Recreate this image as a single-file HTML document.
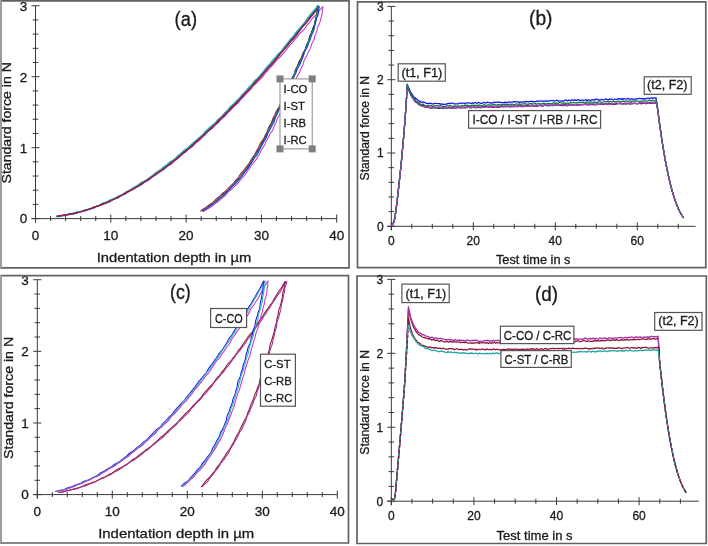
<!DOCTYPE html><html><head><meta charset="utf-8"><style>html,body{margin:0;padding:0;background:#fff;}svg{display:block;will-change:transform;}text{font-family:"Liberation Sans", sans-serif;fill:#1a1a1a;stroke:#1a1a1a;stroke-width:0.3px;}</style></head><body>
<svg width="708" height="546" viewBox="0 0 708 546">
<rect width="708" height="546" fill="#fff"/>
<path d="M35.5 5.75V222.6M31.5 218.6H336.7M31.5 218.6H39.5M32.7 204.41H38.3M32.7 190.22H38.3M32.7 176.03H38.3M32.7 161.84H38.3M31.5 147.65H39.5M32.7 133.46H38.3M32.7 119.27H38.3M32.7 105.08H38.3M32.7 90.89H38.3M31.5 76.7H39.5M32.7 62.51H38.3M32.7 48.32H38.3M32.7 34.13H38.3M32.7 19.94H38.3M31.5 5.75H39.5M35.5 214.6V222.6M50.56 216.1V221.1M65.62 216.1V221.1M80.68 216.1V221.1M95.74 216.1V221.1M110.8 214.6V222.6M125.86 216.1V221.1M140.92 216.1V221.1M155.98 216.1V221.1M171.04 216.1V221.1M186.1 214.6V222.6M201.16 216.1V221.1M216.22 216.1V221.1M231.28 216.1V221.1M246.34 216.1V221.1M261.4 214.6V222.6M276.46 216.1V221.1M291.52 216.1V221.1M306.58 216.1V221.1M321.64 216.1V221.1M336.7 214.6V222.6" stroke="#3a3a3a" stroke-width="1" fill="none"/>
<text x="35.5" y="240.4" font-size="13.5" text-anchor="middle">0</text>
<text x="110.8" y="240.4" font-size="13.5" text-anchor="middle">10</text>
<text x="186.1" y="240.4" font-size="13.5" text-anchor="middle">20</text>
<text x="261.4" y="240.4" font-size="13.5" text-anchor="middle">30</text>
<text x="336.7" y="240.4" font-size="13.5" text-anchor="middle">40</text>
<text x="27.3" y="223.46" font-size="13.5" text-anchor="end">0</text>
<text x="27.3" y="152.51" font-size="13.5" text-anchor="end">1</text>
<text x="27.3" y="81.56" font-size="13.5" text-anchor="end">2</text>
<text x="27.3" y="10.61" font-size="13.5" text-anchor="end">3</text>
<text x="96.7" y="262" font-size="13.5" text-anchor="start" textLength="154.5" lengthAdjust="spacingAndGlyphs">Indentation depth in µm</text>
<text transform="translate(11.2 122.8) rotate(-90)" font-size="13.5" text-anchor="middle" textLength="121.3" lengthAdjust="spacingAndGlyphs">Standard force in N</text>
<text x="174.6" y="25.5" font-size="19.5" text-anchor="start" textLength="22.5" lengthAdjust="spacingAndGlyphs">(a)</text>
<path d="M56.62 216.45 58.47 216.07 60.32 215.65 62.19 215.39 64.08 215.18 65.95 214.83 67.8 214.38 69.69 214.11 71.63 214.06 73.57 213.92 75.43 213.43 77.25 212.72 79.08 212.08 80.95 211.57 82.81 210.98 84.62 210.24 86.47 209.59 88.41 209.2 90.36 208.83 92.23 208.18 94.03 207.3 95.86 206.51 97.79 205.94 99.71 205.34 101.57 204.56 103.45 203.81 105.42 203.23 107.37 202.6 109.18 201.61 110.89 200.4 112.68 199.33 114.58 198.5 116.47 197.63 118.31 196.62 120.21 195.73 122.22 195.01 124.17 194.15 125.94 192.95 127.71 191.72 129.64 190.76 131.63 189.89 133.51 188.8 135.35 187.62 137.27 186.57 139.17 185.46 140.89 184.03 142.55 182.51 144.42 181.31 146.45 180.32 148.39 179.18 150.27 177.91 152.24 176.78 154.21 175.62 155.98 174.15 157.69 172.58 159.62 171.32 161.66 170.17 163.51 168.75 165.27 167.19 167.15 165.77 168.99 164.29 170.67 162.59 172.48 161.03 174.58 159.85 176.67 158.61 178.52 157.06 180.38 155.49 182.31 154.01 184.07 152.31 185.76 150.5 187.71 148.99 189.77 147.59 191.56 145.86 193.26 144.02 195.15 142.38 197.02 140.71 198.8 138.91 200.84 137.38 203.03 136.02 204.91 134.28 206.58 132.32 208.42 130.52 210.26 128.7 211.95 126.72 213.89 124.99 215.99 123.4 217.77 121.47 219.44 119.42 221.4 117.65 223.38 115.89 225.24 113.99 227.32 112.3 229.37 110.56 230.99 108.39 232.6 106.2 234.52 104.3 236.37 102.32 238.21 100.31 240.31 98.55 242.24 96.6 243.86 94.36 245.78 92.39 247.89 90.57 249.75 88.52 251.67 86.51 253.62 84.52 255.18 82.16 256.79 79.83 258.84 77.9 260.83 75.9 262.7 73.78 264.78 71.83 266.61 69.66 268.25 67.31 270.29 65.3 272.36 63.3 274.08 61 275.92 58.78 277.71 56.51 279.27 54.04 281.24 51.91 283.48 50 285.35 47.77 287.24 45.54 289.18 43.35 290.81 40.89 292.69 38.63 294.83 36.58 296.55 34.17 298.22 31.72 300.12 29.45 301.86 27.03 303.85 24.81 306.16 22.85 307.99 20.49 309.68 18.01 311.59 15.69 313.27 13.2 315.14 10.83 317.27 8.68 318.95 6.16" stroke="#222" stroke-width="1.15" fill="none" stroke-linejoin="round" opacity="1"/>
<path d="M56.81 216.42 58.69 216.28 60.55 215.87 62.4 215.45 64.29 215.3 66.22 215.3 68.11 215.04 69.94 214.44 71.76 213.79 73.63 213.37 75.51 213.01 77.36 212.45 79.18 211.78 81.06 211.33 83.03 211.15 84.98 210.86 86.83 210.21 88.64 209.41 90.51 208.8 92.44 208.33 94.31 207.68 96.12 206.82 97.98 206.07 99.94 205.57 101.87 204.97 103.66 204 105.39 202.89 107.24 202.04 109.19 201.39 111.09 200.59 112.92 199.64 114.84 198.86 116.87 198.27 118.82 197.48 120.57 196.29 122.33 195.09 124.24 194.18 126.19 193.31 128.01 192.19 129.81 191 131.75 190.05 133.71 189.12 135.49 187.84 137.19 186.43 139.09 185.33 141.15 184.47 143.09 183.39 144.92 182.13 146.88 181.03 148.88 179.98 150.66 178.59 152.31 176.98 154.16 175.66 156.19 174.57 158.07 173.25 159.83 171.75 161.76 170.46 163.75 169.23 165.52 167.7 167.26 166.11 169.3 164.88 171.42 163.74 173.28 162.22 175.06 160.6 177 159.17 178.85 157.6 180.47 155.75 182.3 154.12 184.41 152.83 186.36 151.33 188.1 149.55 190.03 147.99 192.05 146.5 193.82 144.72 195.66 143 197.81 141.63 199.81 140.06 201.46 138.09 203.25 136.25 205.19 134.57 206.92 132.65 208.73 130.79 210.9 129.32 212.95 127.68 214.65 125.68 216.55 123.86 218.6 122.19 220.39 120.23 222.25 118.34 224.39 116.71 226.22 114.76 227.79 112.52 229.69 110.62 231.7 108.8 233.51 106.78 235.57 104.98 237.77 103.3 239.51 101.17 241.23 99.01 243.31 97.18 245.21 95.17 246.98 93.02 249.05 91.14 250.92 89.05 252.48 86.68 254.49 84.7 256.66 82.86 258.53 80.74 260.58 78.77 262.66 76.81 264.27 74.41 266.06 72.17 268.22 70.24 270.04 68.01 271.86 65.77 273.94 63.74 275.68 61.39 277.49 59.11 279.8 57.25 281.82 55.13 283.63 52.81 285.68 50.69 287.4 48.28 289.07 45.82 291.27 43.8 293.26 41.58 295 39.15 297.09 37.01 298.99 34.7 300.83 32.32 303.15 30.34 305.14 28.09 306.79 25.52 308.77 23.24 310.57 20.78 312.36 18.32 314.66 16.28 316.63 13.94 318.37 11.42 320.53 9.22 322.45 6.83" stroke="#c23ac8" stroke-width="1.15" fill="none" stroke-linejoin="round" opacity="1"/>
<path d="M56.6 216.33 58.47 216.06 60.36 215.96 62.28 215.97 64.17 215.76 66 215.17 67.8 214.43 69.64 213.9 71.52 213.56 73.39 213.15 75.24 212.61 77.11 212.17 79.05 211.96 81 211.71 82.86 211.13 84.66 210.33 86.51 209.67 88.44 209.26 90.37 208.81 92.23 208.12 94.08 207.38 95.99 206.78 97.89 206.15 99.68 205.19 101.39 204.02 103.18 203.06 105.12 202.43 107.08 201.82 108.97 201.01 110.86 200.19 112.84 199.53 114.79 198.79 116.59 197.71 118.32 196.49 120.2 195.53 122.2 194.78 124.1 193.82 125.88 192.62 127.7 191.48 129.6 190.46 131.39 189.24 133.08 187.83 134.92 186.66 137 185.84 139.06 184.98 140.94 183.81 142.79 182.58 144.74 181.46 146.59 180.18 148.26 178.63 150.04 177.22 152.05 176.12 154.02 174.94 155.75 173.42 157.5 171.9 159.41 170.58 161.27 169.18 163.04 167.65 165.02 166.37 167.2 165.34 169.19 164.05 170.91 162.39 172.69 160.81 174.56 159.32 176.28 157.63 178 155.93 180 154.56 182.04 153.21 183.78 151.49 185.5 149.72 187.46 148.24 189.43 146.74 191.28 145.08 193.31 143.62 195.43 142.24 197.18 140.43 198.73 138.38 200.52 136.6 202.41 134.9 204.17 133.04 206.11 131.37 208.23 129.88 210.06 128.06 211.72 126.05 213.7 124.36 215.77 122.76 217.61 120.9 219.53 119.1 221.51 117.35 223.1 115.2 224.62 112.97 226.57 111.16 228.6 109.4 230.45 107.47 232.49 105.7 234.52 103.91 236.18 101.75 237.96 99.7 240.1 97.97 242 96 243.7 93.84 245.58 91.84 247.28 89.64 248.83 87.31 250.87 85.42 253.08 83.67 254.95 81.6 256.88 79.57 258.85 77.56 260.46 75.23 262.26 73.05 264.4 71.16 266.17 68.95 267.79 66.58 269.68 64.44 271.43 62.18 273.25 59.96 275.55 58.15 277.64 56.14 279.31 53.77 281.17 51.55 282.95 49.26 284.57 46.82 286.62 44.73 288.61 42.59 290.16 40.07 292 37.79 294.03 35.64 295.88 33.35 298.07 31.32 300.18 29.22 301.69 26.63 303.36 24.16 305.26 21.87 306.96 19.41 308.97 17.19 311.02 15 312.61 12.43 314.49 10.09 316.66 7.97 318.54 5.61" stroke="#157a3c" stroke-width="1.15" fill="none" stroke-linejoin="round" opacity="1"/>
<path d="M56.6 216.29 58.45 215.9 60.33 215.71 62.22 215.55 64.09 215.24 65.95 214.86 67.85 214.62 69.77 214.48 71.66 214.14 73.47 213.44 75.25 212.63 77.09 212.03 78.98 211.63 80.87 211.19 82.73 210.63 84.63 210.17 86.59 209.87 88.53 209.46 90.37 208.7 92.14 207.76 93.98 207 95.91 206.45 97.82 205.84 99.67 205.04 101.53 204.24 103.44 203.56 105.33 202.77 107.08 201.67 108.8 200.49 110.66 199.6 112.65 198.97 114.62 198.25 116.51 197.35 118.42 196.48 120.39 195.67 122.24 194.63 123.95 193.31 125.71 192.07 127.65 191.14 129.63 190.25 131.48 189.11 133.28 187.86 135.16 186.74 137.03 185.58 138.76 184.19 140.53 182.84 142.55 181.85 144.66 180.97 146.59 179.8 148.39 178.43 150.26 177.13 152.11 175.79 153.8 174.2 155.53 172.66 157.52 171.47 159.56 170.31 161.37 168.83 163.12 167.25 165.01 165.84 166.89 164.4 168.68 162.85 170.62 161.49 172.76 160.37 174.75 159.02 176.43 157.29 178.15 155.59 180 154.02 181.75 152.33 183.52 150.65 185.57 149.28 187.64 147.92 189.41 146.19 191.12 144.38 193.06 142.81 195 141.24 196.84 139.53 198.85 138 200.9 136.49 202.6 134.58 204.14 132.5 205.97 130.72 207.9 129.02 209.74 127.22 211.76 125.59 213.87 124.03 215.62 122.09 217.27 120.04 219.25 118.31 221.25 116.59 223.07 114.67 225 112.85 226.9 110.98 228.44 108.76 230.09 106.62 232.16 104.89 234.2 103.1 236.1 101.17 238.14 99.37 240.01 97.39 241.58 95.11 243.45 93.11 245.55 91.31 247.36 89.23 249.13 87.1 251.01 85.06 252.64 82.79 254.38 80.6 256.59 78.83 258.7 76.95 260.49 74.78 262.4 72.69 264.16 70.48 265.74 68.09 267.73 66.06 269.83 64.1 271.51 61.78 273.27 59.51 275.17 57.35 276.91 55.05 278.95 53 281.23 51.13 283.01 48.84 284.64 46.41 286.48 44.15 288.16 41.75 290 39.48 292.19 37.48 293.98 35.14 295.61 32.67 297.6 30.48 299.51 28.23 301.46 25.99 303.65 23.94 305.37 21.51 306.83 18.86 308.7 16.53 310.56 14.19 312.45 11.86 314.62 9.75 316.41 7.32 318.02 4.76" stroke="#2cb4b4" stroke-width="1.15" fill="none" stroke-linejoin="round" opacity="1"/>
<path d="M56.75 216.79 58.63 216.58 60.46 215.99 62.3 215.44 64.17 215.16 66.05 214.93 67.9 214.44 69.72 213.85 71.61 213.54 73.56 213.52 75.5 213.35 77.34 212.76 79.15 212.03 81.03 211.56 82.97 211.28 84.86 210.8 86.68 210.04 88.53 209.38 90.48 209 92.41 208.53 94.2 207.64 95.92 206.53 97.74 205.71 99.69 205.19 101.61 204.57 103.44 203.7 105.32 202.94 107.33 202.47 109.32 201.9 111.12 200.89 112.85 199.7 114.73 198.83 116.72 198.16 118.6 197.25 120.36 196.07 122.21 195.06 124.18 194.26 126.03 193.22 127.71 191.82 129.47 190.6 131.5 189.8 133.55 189.02 135.41 187.9 137.26 186.74 139.27 185.82 141.22 184.78 142.91 183.31 144.59 181.81 146.55 180.73 148.57 179.72 150.35 178.33 152.08 176.86 154.02 175.67 155.97 174.48 157.69 172.93 159.46 171.46 161.58 170.44 163.7 169.41 165.51 167.92 167.27 166.36 169.23 165.03 171.06 163.53 172.66 161.7 174.46 160.13 176.57 158.93 178.5 157.48 180.17 155.69 182.05 154.15 184.09 152.79 185.9 151.12 187.69 149.43 189.83 148.13 191.92 146.74 193.55 144.82 195.22 142.93 197.16 141.33 198.94 139.53 200.6 137.6 202.67 136.09 204.81 134.65 206.52 132.73 208.26 130.82 210.35 129.28 212.28 127.55 214.01 125.6 216.06 123.97 218.08 122.28 219.6 120.08 221.22 117.97 223.26 116.27 225.13 114.38 226.92 112.4 229.1 110.8 231.13 109.03 232.7 106.8 234.58 104.86 236.7 103.14 238.45 101.06 240.23 98.98 242.27 97.15 243.92 94.93 245.44 92.59 247.55 90.78 249.66 88.96 251.44 86.83 253.52 84.95 255.53 83 257.05 80.59 258.88 78.47 261.03 76.61 262.72 74.33 264.45 72.08 266.47 70.07 268.12 67.73 269.86 65.47 272.2 63.7 274.21 61.64 275.91 59.31 277.93 57.24 279.67 54.93 281.19 52.42 283.3 50.4 285.29 48.27 286.85 45.77 288.81 43.6 290.78 41.42 292.48 39.01 294.7 37.03 296.85 34.98 298.38 32.41 300.18 30.05 302.06 27.76 303.61 25.19 305.68 23.03 307.81 20.91 309.36 18.32 311.29 16.03 313.41 13.88 315.14 11.42 317.25 9.24 319.28 7" stroke="#2236d8" stroke-width="1.15" fill="none" stroke-linejoin="round" opacity="1"/>
<path d="M56.6 216.25 58.45 215.88 60.33 215.67 62.2 215.42 64.06 215.01 65.92 214.63 67.82 214.49 69.76 214.45 71.66 214.18 73.5 213.62 75.34 213.02 77.23 212.6 79.13 212.23 80.99 211.67 82.82 211 84.7 210.46 86.63 210.07 88.52 209.53 90.32 208.68 92.1 207.77 93.97 207.1 95.9 206.6 97.81 205.97 99.67 205.22 101.59 204.58 103.57 204.07 105.49 203.39 107.28 202.37 109.05 201.29 110.92 200.44 112.86 199.69 114.72 198.76 116.52 197.72 118.41 196.81 120.36 196 122.21 194.97 123.95 193.72 125.79 192.64 127.79 191.84 129.79 191.01 131.66 189.93 133.54 188.83 135.49 187.85 137.37 186.72 139.08 185.29 140.81 183.9 142.74 182.8 144.72 181.76 146.56 180.47 148.37 179.14 150.32 177.98 152.24 176.78 154.01 175.33 155.83 173.94 157.88 172.85 159.93 171.74 161.76 170.29 163.53 168.78 165.43 167.39 167.24 165.89 168.91 164.19 170.75 162.69 172.82 161.47 174.79 160.1 176.56 158.46 178.44 156.95 180.42 155.54 182.25 153.93 184.05 152.28 186.1 150.89 188.12 149.46 189.84 147.66 191.53 145.81 193.41 144.18 195.24 142.46 197 140.66 199.03 139.14 201.16 137.71 202.98 135.93 204.72 134.05 206.69 132.4 208.61 130.68 210.37 128.79 212.33 127.08 214.33 125.41 216 123.37 217.64 121.3 219.61 119.55 221.56 117.77 223.42 115.88 225.51 114.21 227.55 112.48 229.22 110.37 230.97 108.32 232.99 106.52 234.83 104.54 236.61 102.49 238.6 100.63 240.41 98.58 242.02 96.33 243.99 94.42 246.12 92.64 248 90.61 249.96 88.65 251.96 86.7 253.58 84.41 255.28 82.17 257.34 80.25 259.21 78.15 260.96 75.93 262.94 73.91 264.76 71.74 266.48 69.46 268.62 67.55 270.74 65.6 272.48 63.32 274.35 61.14 276.18 58.9 277.75 56.45 279.69 54.3 281.8 52.29 283.55 49.96 285.4 47.71 287.41 45.58 289.17 43.24 291.16 41.07 293.33 39.05 295.03 36.63 296.69 34.17 298.59 31.9 300.28 29.46 302.2 27.18 304.4 25.14 306.19 22.75 307.95 20.33 310.01 18.14 311.83 15.76 313.73 13.43 315.81 11.24 317.41 8.66 319.04 6.09" stroke="#b01c2c" stroke-width="1.15" fill="none" stroke-linejoin="round" opacity="1"/>
<path d="M318.35 6.19 318.21 7.92 317.87 9.62 317.55 11.32 317.36 13.06 317.15 14.81 316.69 16.51 316.02 18.16 315.4 19.82 315.04 21.56 314.8 23.35 314.36 25.08 313.66 26.75 312.93 28.4 312.34 30.11 311.81 31.84 311.1 33.52 310.23 35.14 309.48 36.8 309.03 38.59 308.69 40.43 308.16 42.2 307.36 43.87 306.55 45.54 305.9 47.28 305.26 49.02 304.41 50.68 303.43 52.29 302.61 53.97 302.06 55.77 301.5 57.57 300.67 59.24 299.65 60.84 298.76 62.5 298.07 64.25 297.36 65.99 296.48 67.65 295.62 69.33 295.01 71.12 294.56 72.98 293.93 74.76 292.98 76.4 291.95 78 291.12 79.69 290.4 81.43 289.56 83.12 288.59 84.74 287.73 86.42 287.13 88.22 286.55 90.02 285.71 91.71 284.66 93.3 283.75 94.95 283.09 96.72 282.48 98.51 281.7 100.22 280.86 101.9 280.19 103.67 279.65 105.49 278.94 107.23 277.9 108.83 276.79 110.39 275.91 112.06 275.24 113.83 274.5 115.56 273.59 117.22 272.74 118.91 272.1 120.7 271.5 122.5 270.64 124.19 269.57 125.78 268.63 127.44 267.97 129.23 267.37 131.06 266.55 132.78 265.58 134.44 264.73 136.16 263.98 137.93 263.06 139.63 261.85 141.18 260.66 142.73 259.76 144.46 259.05 146.3 258.21 148.07 257.16 149.74 256.16 151.44 255.32 153.26 254.39 155.02 253.17 156.63 251.89 158.22 250.88 159.98 250.02 161.87 248.94 163.62 247.59 165.21 246.28 166.85 245.09 168.59 243.77 170.26 242.22 171.77 240.8 173.41 239.7 175.32 238.56 177.25 237.08 178.93 235.5 180.55 234.08 182.35 232.55 184.1 230.74 185.62 229.02 187.26 227.54 189.2 225.86 190.98 223.82 192.44 221.86 194.03 220.03 195.83 217.98 197.44 215.93 199.12 214.16 201.21 212.12 203.07 209.7 204.51 207.41 206.21 205.08 207.95 202.5 209.42 200.13 211.31" stroke="#b01c2c" stroke-width="1.05" fill="none" stroke-linejoin="round" opacity="1"/>
<path d="M318.33 6.22 317.96 7.91 317.5 9.58 317.19 11.29 317.02 13.02 316.79 14.75 316.36 16.45 315.89 18.15 315.59 19.89 315.42 21.68 315.1 23.44 314.44 25.11 313.58 26.72 312.84 28.36 312.3 30.08 311.76 31.8 311.05 33.47 310.31 35.13 309.77 36.87 309.41 38.68 308.93 40.46 308.14 42.13 307.25 43.75 306.53 45.45 306.03 47.24 305.47 49.01 304.72 50.7 303.91 52.38 303.27 54.13 302.7 55.91 301.9 57.6 300.82 59.16 299.76 60.73 298.98 62.43 298.4 64.22 297.74 65.97 296.93 67.66 296.19 69.38 295.64 71.19 295.07 72.99 294.24 74.67 293.22 76.27 292.34 77.93 291.74 79.71 291.16 81.51 290.37 83.21 289.43 84.85 288.61 86.53 287.91 88.28 287.11 89.97 286.07 91.56 285.04 93.15 284.32 94.88 283.86 96.73 283.32 98.54 282.55 100.25 281.74 101.94 281.08 103.7 280.45 105.48 279.61 107.15 278.57 108.74 277.64 110.38 277 112.15 276.44 113.96 275.66 115.67 274.66 117.28 273.73 118.92 272.99 120.65 272.24 122.38 271.31 124.03 270.36 125.67 269.67 127.43 269.21 129.31 268.65 131.15 267.77 132.84 266.76 134.46 265.88 136.16 265.08 137.9 264.12 139.57 262.99 141.15 261.98 142.8 261.24 144.59 260.52 146.42 259.52 148.1 258.33 149.67 257.26 151.33 256.4 153.11 255.48 154.88 254.39 156.55 253.33 158.26 252.51 160.13 251.68 162.02 250.48 163.69 249.02 165.2 247.67 166.8 246.51 168.54 245.23 170.23 243.78 171.81 242.48 173.52 241.37 175.42 240.09 177.22 238.47 178.76 236.88 180.36 235.55 182.22 234.17 184.07 232.53 185.74 230.93 187.49 229.42 189.38 227.59 191 225.45 192.34 223.51 193.93 221.77 195.8 219.8 197.49 217.79 199.19 215.95 201.18 213.82 202.89 211.41 204.33 209.28 206.21 207.11 208.15 204.59 209.69 202.13 211.42" stroke="#222" stroke-width="1.05" fill="none" stroke-linejoin="round" opacity="1"/>
<path d="M318.3 6.2 317.99 7.9 317.61 9.59 317.33 11.29 317.17 13.03 316.94 14.77 316.48 16.46 315.86 18.11 315.32 19.79 314.98 21.53 314.71 23.3 314.31 25.04 313.78 26.75 313.28 28.47 312.86 30.23 312.37 31.98 311.62 33.64 310.7 35.24 309.85 36.86 309.24 38.58 308.71 40.34 308.06 42.06 307.32 43.74 306.64 45.45 306.09 47.22 305.49 48.98 304.68 50.65 303.78 52.28 303.05 53.99 302.53 55.79 302 57.59 301.27 59.31 300.41 60.97 299.62 62.67 298.88 64.39 298.03 66.06 297 67.65 296.01 69.26 295.28 70.98 294.75 72.8 294.13 74.58 293.34 76.28 292.53 77.97 291.85 79.72 291.19 81.48 290.37 83.17 289.44 84.81 288.63 86.5 288.04 88.29 287.46 90.08 286.67 91.78 285.69 93.4 284.77 95.04 283.98 96.74 283.18 98.44 282.26 100.08 281.37 101.73 280.71 103.49 280.25 105.34 279.69 107.14 278.89 108.84 278 110.5 277.22 112.2 276.52 113.95 275.73 115.65 274.8 117.29 273.94 118.97 273.27 120.73 272.64 122.52 271.79 124.2 270.74 125.8 269.74 127.42 268.94 129.13 268.2 130.88 267.37 132.59 266.51 134.29 265.81 136.07 265.23 137.93 264.51 139.72 263.51 141.36 262.39 142.96 261.42 144.64 260.56 146.38 259.6 148.08 258.51 149.72 257.5 151.41 256.63 153.19 255.7 154.95 254.52 156.57 253.24 158.14 252.15 159.84 251.24 161.67 250.26 163.48 249.11 165.2 248 166.96 246.96 168.8 245.73 170.53 244.21 172.06 242.65 173.58 241.32 175.3 240.04 177.09 238.57 178.76 237.05 180.42 235.65 182.21 234.18 183.99 232.44 185.57 230.71 187.18 229.23 189.09 227.7 191.01 225.88 192.69 224 194.36 222.14 196.11 219.99 197.6 217.75 199.03 215.79 200.85 213.81 202.76 211.56 204.39 209.34 206.16 207.09 207.97 204.57 209.51 202.18 211.34" stroke="#157a3c" stroke-width="1.05" fill="none" stroke-linejoin="round" opacity="1"/>
<path d="M318.79 6.17 318.63 7.89 318.59 9.63 318.42 11.36 317.93 13.04 317.27 14.69 316.77 16.36 316.51 18.1 316.31 19.87 315.93 21.6 315.41 23.3 314.98 25.03 314.7 26.82 314.3 28.58 313.57 30.24 312.62 31.82 311.8 33.45 311.26 35.18 310.78 36.95 310.13 38.66 309.36 40.32 308.7 42.03 308.21 43.81 307.63 45.57 306.78 47.22 305.81 48.82 305.08 50.52 304.63 52.34 304.16 54.17 303.44 55.88 302.6 57.55 301.86 59.26 301.21 61.02 300.37 62.69 299.29 64.26 298.23 65.84 297.51 67.56 297.01 69.39 296.4 71.17 295.55 72.85 294.71 74.52 294.05 76.28 293.42 78.06 292.58 79.73 291.59 81.35 290.77 83.03 290.25 84.86 289.76 86.69 288.99 88.4 287.99 90.01 287.07 91.65 286.32 93.37 285.51 95.06 284.52 96.67 283.55 98.29 282.88 100.04 282.46 101.91 281.93 103.72 281.1 105.41 280.17 107.04 279.41 108.76 278.77 110.53 277.98 112.23 277.03 113.86 276.17 115.53 275.57 117.33 275.03 119.15 274.21 120.84 273.11 122.41 272.08 124.01 271.29 125.73 270.56 127.47 269.68 129.15 268.77 130.82 268.08 132.6 267.6 134.48 266.96 136.3 265.96 137.94 264.84 139.52 263.9 141.21 263.13 142.98 262.22 144.69 261.14 146.32 260.14 148 259.36 149.8 258.53 151.6 257.36 153.21 256.03 154.73 254.91 156.38 254.05 158.2 253.13 160.01 252.01 161.72 250.93 163.46 250.02 165.34 248.98 167.16 247.55 168.72 245.98 170.19 244.67 171.87 243.51 173.71 242.16 175.41 240.64 177.01 239.29 178.77 237.98 180.61 236.35 182.21 234.55 183.69 233.05 185.48 231.72 187.48 230.12 189.27 228.31 190.92 226.62 192.73 224.76 194.42 222.54 195.77 220.45 197.32 218.67 199.29 216.65 201.06 214.41 202.64 212.34 204.5 210.07 206.19 207.57 207.67 205.39 209.69 203.11 211.68" stroke="#2cb4b4" stroke-width="1.05" fill="none" stroke-linejoin="round" opacity="1"/>
<path d="M319.32 6.22 318.98 7.91 318.71 9.62 318.61 11.36 318.49 13.11 318.08 14.82 317.38 16.46 316.67 18.09 316.19 19.79 315.86 21.53 315.44 23.25 314.86 24.93 314.33 26.64 314 28.42 313.72 30.22 313.19 31.95 312.37 33.58 311.54 35.21 310.94 36.93 310.49 38.72 309.91 40.46 309.13 42.12 308.36 43.8 307.77 45.54 307.18 47.3 306.35 48.96 305.3 50.53 304.38 52.15 303.77 53.91 303.3 55.74 302.67 57.5 301.89 59.19 301.19 60.92 300.63 62.72 299.97 64.47 299.04 66.1 297.98 67.68 297.13 69.36 296.55 71.15 295.94 72.93 295.1 74.61 294.16 76.24 293.37 77.94 292.7 79.7 291.89 81.39 290.89 83 289.97 84.64 289.37 86.43 288.95 88.29 288.36 90.09 287.52 91.76 286.65 93.43 285.94 95.16 285.23 96.9 284.3 98.53 283.24 100.11 282.38 101.78 281.81 103.58 281.26 105.39 280.45 107.08 279.47 108.7 278.62 110.37 277.96 112.13 277.25 113.87 276.36 115.53 275.48 117.19 274.87 118.98 274.42 120.85 273.79 122.63 272.82 124.27 271.78 125.86 270.9 127.54 270.13 129.27 269.21 130.94 268.17 132.54 267.28 134.23 266.67 136.05 266.05 137.88 265.13 139.57 264.03 141.17 263.05 142.83 262.29 144.62 261.49 146.4 260.49 148.08 259.48 149.76 258.69 151.57 257.92 153.42 256.83 155.09 255.46 156.59 254.17 158.16 253.14 159.9 252.12 161.66 250.92 163.32 249.72 165 248.75 166.85 247.77 168.73 246.45 170.39 244.92 171.92 243.6 173.62 242.46 175.49 241.14 177.25 239.6 178.87 238.17 180.61 236.79 182.43 235.09 184 233.16 185.39 231.49 187.06 230.04 189 228.38 190.78 226.57 192.47 224.91 194.37 223.09 196.17 220.89 197.6 218.81 199.22 216.96 201.19 214.81 202.88 212.47 204.41 210.27 206.2 207.82 207.74 205.24 209.19 203.03 211.27" stroke="#2236d8" stroke-width="1.05" fill="none" stroke-linejoin="round" opacity="1"/>
<path d="M323.37 6.22 322.92 7.9 322.49 9.59 322.29 11.31 322.21 13.08 321.97 14.82 321.46 16.51 320.89 18.18 320.46 19.9 320.09 21.64 319.53 23.34 318.71 24.95 317.88 26.57 317.33 28.28 317 30.07 316.57 31.84 315.91 33.54 315.2 35.22 314.66 36.97 314.21 38.76 313.56 40.48 312.67 42.11 311.8 43.75 311.2 45.51 310.72 47.32 310.05 49.05 309.11 50.68 308.17 52.3 307.43 54.02 306.74 55.76 305.86 57.41 304.87 59.02 304.06 60.71 303.56 62.55 303.09 64.4 302.35 66.13 301.42 67.77 300.6 69.46 299.95 71.24 299.22 72.97 298.25 74.6 297.25 76.21 296.5 77.94 295.92 79.75 295.2 81.49 294.19 83.1 293.16 84.7 292.36 86.41 291.71 88.18 290.94 89.9 290.03 91.56 289.26 93.28 288.75 95.12 288.25 96.96 287.46 98.67 286.44 100.27 285.5 101.91 284.77 103.65 284.04 105.39 283.11 107.03 282.12 108.65 281.35 110.37 280.77 112.18 280.06 113.93 279.07 115.55 278.04 117.15 277.27 118.88 276.69 120.69 276 122.46 275.12 124.15 274.29 125.85 273.66 127.66 273.02 129.47 272.08 131.13 270.89 132.68 269.83 134.28 269.04 136.03 268.27 137.8 267.29 139.46 266.25 141.1 265.4 142.84 264.69 144.67 263.79 146.41 262.63 148.01 261.52 149.64 260.69 151.44 259.94 153.31 258.95 155.05 257.76 156.68 256.68 158.39 255.7 160.18 254.5 161.85 253.03 163.34 251.64 164.9 250.57 166.7 249.54 168.56 248.24 170.24 246.86 171.89 245.66 173.7 244.46 175.55 242.95 177.17 241.33 178.74 239.98 180.55 238.69 182.48 237.06 184.14 235.24 185.65 233.57 187.36 231.88 189.08 229.9 190.55 228.01 192.16 226.43 194.17 224.68 196.06 222.58 197.63 220.6 199.4 218.62 201.25 216.3 202.75 214.06 204.42 211.98 206.41 209.48 207.92 206.86 209.35 204.46 211.19" stroke="#c23ac8" stroke-width="1.05" fill="none" stroke-linejoin="round" opacity="1"/>
<rect x="280" y="78.9" width="32.2" height="70" fill="#fff" stroke="#8a8a8a" stroke-width="1"/>
<text x="283.5" y="93.2" font-size="11.3" text-anchor="start">I-CO</text>
<text x="283.5" y="110.1" font-size="11.3" text-anchor="start">I-ST</text>
<text x="283.5" y="127" font-size="11.3" text-anchor="start">I-RB</text>
<text x="283.5" y="143.9" font-size="11.3" text-anchor="start">I-RC</text>
<rect x="276.5" y="75.4" width="7" height="7" fill="#7f7f7f"/>
<rect x="308.7" y="75.4" width="7" height="7" fill="#7f7f7f"/>
<rect x="276.5" y="145.4" width="7" height="7" fill="#7f7f7f"/>
<rect x="308.7" y="145.4" width="7" height="7" fill="#7f7f7f"/>
<path d="M37.3 279.71V498.6M33.3 494.6H337.3M33.3 494.6H41.3M34.5 480.27H40.1M34.5 465.95H40.1M34.5 451.62H40.1M34.5 437.3H40.1M33.3 422.97H41.3M34.5 408.64H40.1M34.5 394.32H40.1M34.5 379.99H40.1M34.5 365.67H40.1M33.3 351.34H41.3M34.5 337.01H40.1M34.5 322.69H40.1M34.5 308.36H40.1M34.5 294.04H40.1M33.3 279.71H41.3M37.3 490.6V498.6M52.3 492.1V497.1M67.3 492.1V497.1M82.3 492.1V497.1M97.3 492.1V497.1M112.3 490.6V498.6M127.3 492.1V497.1M142.3 492.1V497.1M157.3 492.1V497.1M172.3 492.1V497.1M187.3 490.6V498.6M202.3 492.1V497.1M217.3 492.1V497.1M232.3 492.1V497.1M247.3 492.1V497.1M262.3 490.6V498.6M277.3 492.1V497.1M292.3 492.1V497.1M307.3 492.1V497.1M322.3 492.1V497.1M337.3 490.6V498.6" stroke="#3a3a3a" stroke-width="1" fill="none"/>
<text x="37.3" y="516" font-size="13.5" text-anchor="middle">0</text>
<text x="112.3" y="516" font-size="13.5" text-anchor="middle">10</text>
<text x="187.3" y="516" font-size="13.5" text-anchor="middle">20</text>
<text x="262.3" y="516" font-size="13.5" text-anchor="middle">30</text>
<text x="337.3" y="516" font-size="13.5" text-anchor="middle">40</text>
<text x="28.8" y="499.46" font-size="13.5" text-anchor="end">0</text>
<text x="28.8" y="427.83" font-size="13.5" text-anchor="end">1</text>
<text x="28.8" y="356.2" font-size="13.5" text-anchor="end">2</text>
<text x="28.8" y="284.57" font-size="13.5" text-anchor="end">3</text>
<text x="98.2" y="538.4" font-size="13.5" text-anchor="start" textLength="156" lengthAdjust="spacingAndGlyphs">Indentation depth in µm</text>
<text transform="translate(12.9 397.9) rotate(-90)" font-size="13.5" text-anchor="middle" textLength="122.1" lengthAdjust="spacingAndGlyphs">Standard force in N</text>
<text x="170" y="299" font-size="19.5" text-anchor="start" textLength="20.8" lengthAdjust="spacingAndGlyphs">(c)</text>
<path d="M57.96 492.27 59.6 492.09 61.26 492.01 62.92 491.87 64.54 491.5 66.13 490.98 67.73 490.48 69.36 490.14 71.02 489.86 72.67 489.48 74.27 488.95 75.87 488.4 77.51 487.94 79.17 487.53 80.79 486.99 82.35 486.24 83.88 485.42 85.47 484.75 87.14 484.26 88.83 483.8 90.48 483.22 92.1 482.54 93.75 481.92 95.44 481.38 97.12 480.77 98.7 479.93 100.23 478.96 101.8 478.08 103.47 477.37 105.16 476.69 106.78 475.84 108.34 474.86 109.94 473.93 111.59 473.1 113.22 472.2 114.77 471.14 116.29 470.02 117.93 469.09 119.7 468.35 121.45 467.55 123.09 466.56 124.68 465.47 126.33 464.44 127.99 463.44 129.56 462.26 131.04 460.93 132.59 459.7 134.29 458.68 136.02 457.66 137.61 456.43 139.13 455.09 140.74 453.86 142.42 452.71 144.04 451.45 145.58 450.09 147.25 448.85 149.07 447.8 150.84 446.66 152.4 445.24 153.89 443.73 155.49 442.33 157.11 440.94 158.61 439.39 160.12 437.84 161.84 436.51 163.63 435.24 165.24 433.75 166.73 432.12 168.35 430.61 170.09 429.21 171.73 427.69 173.31 426.09 175.05 424.64 176.85 423.22 178.4 421.53 179.77 419.66 181.3 417.93 182.98 416.33 184.55 414.61 186.13 412.88 187.91 411.33 189.71 409.77 191.24 407.94 192.72 406.07 194.45 404.39 196.2 402.72 197.77 400.87 199.39 399.05 201.12 397.31 202.63 395.37 203.96 393.25 205.54 391.33 207.34 389.58 209 387.7 210.64 385.79 212.46 384.02 214.13 382.09 215.53 379.94 217.13 377.93 218.94 376.08 220.54 374.04 222.03 371.9 223.7 369.89 225.24 367.76 226.62 365.49 228.32 363.45 230.25 361.58 231.91 359.49 233.52 357.33 235.26 355.27 236.76 353 238.16 350.65 239.93 348.56 241.66 346.43 243.09 344.05 244.66 341.78 246.34 339.56 247.83 337.19 249.56 334.98 251.55 332.94 253.15 330.61 254.61 328.16 256.26 325.84 257.72 323.37 259.21 320.9 261.06 318.67 262.7 316.28 264.1 313.71 265.82 311.35 267.52 308.96 269.13 306.49 271.04 304.21 272.71 301.76 273.99 299.04 275.56 296.49 277.17 293.96 278.68 291.35 280.54 288.95 282.23 286.42 283.62 283.7 285.4 281.2" stroke="#8e1232" stroke-width="1.05" fill="none" stroke-linejoin="round" opacity="1"/>
<path d="M285.21 281.16 284.83 282.87 284.59 284.6 284.41 286.35 284.11 288.08 283.63 289.77 283.15 291.46 282.82 293.18 282.63 294.93 282.4 296.68 282.01 298.39 281.58 300.09 281.23 301.81 280.93 303.55 280.53 305.26 279.93 306.93 279.28 308.59 278.79 310.28 278.49 312.02 278.22 313.76 277.83 315.48 277.38 317.18 277.02 318.91 276.76 320.66 276.45 322.4 275.96 324.1 275.39 325.78 274.92 327.49 274.63 329.24 274.36 330.99 273.93 332.71 273.37 334.39 272.82 336.08 272.38 337.8 271.93 339.52 271.35 341.2 270.69 342.86 270.16 344.55 269.84 346.31 269.6 348.08 269.24 349.83 268.73 351.53 268.23 353.24 267.82 354.98 267.43 356.72 266.89 358.42 266.23 360.09 265.64 361.78 265.23 363.53 264.87 365.29 264.35 367 263.67 368.67 262.98 370.33 262.42 372.04 261.93 373.77 261.36 375.48 260.71 377.16 260.16 378.87 259.79 380.65 259.48 382.45 259 384.2 258.32 385.88 257.61 387.56 257.02 389.28 256.46 391.01 255.79 392.7 255.01 394.36 254.31 396.05 253.77 397.8 253.25 399.57 252.55 401.27 251.7 402.91 250.9 404.58 250.28 406.31 249.71 408.08 249.04 409.81 248.3 411.52 247.66 413.27 247.13 415.07 246.51 416.85 245.65 418.52 244.65 420.14 243.75 421.8 242.99 423.53 242.19 425.25 241.27 426.92 240.35 428.59 239.57 430.35 238.84 432.13 237.96 433.85 236.91 435.48 235.91 437.15 235.1 438.93 234.34 440.75 233.43 442.5 232.41 444.19 231.45 445.93 230.54 447.71 229.46 449.4 228.16 450.97 226.89 452.56 225.83 454.29 224.83 456.08 223.7 457.79 222.49 459.47 221.39 461.23 220.33 463.04 219.11 464.75 217.73 466.37 216.47 468.08 215.37 469.94 214.17 471.75 212.75 473.4 211.3 475.04 209.93 476.77 208.46 478.44 206.81 479.97 205.24 481.6 203.91 483.45 202.56 485.31 200.98 487" stroke="#8e1232" stroke-width="1.05" fill="none" stroke-linejoin="round" opacity="1"/>
<path d="M59.26 492.85 60.88 492.55 62.46 491.99 64.03 491.4 65.63 490.98 67.28 490.75 68.93 490.49 70.54 490.05 72.14 489.53 73.77 489.13 75.45 488.88 77.14 488.61 78.76 488.1 80.32 487.38 81.89 486.7 83.55 486.23 85.24 485.87 86.9 485.36 88.48 484.64 90.06 483.88 91.69 483.26 93.37 482.72 94.99 482.01 96.51 481.07 98.02 480.1 99.64 479.37 101.37 478.84 103.08 478.23 104.69 477.41 106.28 476.52 107.95 475.77 109.67 475.11 111.32 474.27 112.84 473.18 114.35 472.08 116.01 471.21 117.75 470.47 119.41 469.56 120.94 468.41 122.47 467.27 124.12 466.29 125.8 465.35 127.36 464.19 128.85 462.92 130.49 461.85 132.3 461.02 134.07 460.11 135.67 458.93 137.2 457.64 138.86 456.5 140.56 455.41 142.11 454.1 143.56 452.64 145.16 451.35 146.93 450.28 148.64 449.09 150.13 447.63 151.62 446.15 153.31 444.89 155.03 443.65 156.59 442.21 158.15 440.75 159.93 439.53 161.79 438.37 163.39 436.9 164.81 435.22 166.38 433.68 168.08 432.28 169.63 430.69 171.09 428.99 172.76 427.51 174.59 426.17 176.21 424.59 177.63 422.8 179.25 421.19 181.07 419.76 182.72 418.15 184.26 416.41 186.01 414.85 187.81 413.34 189.28 411.49 190.62 409.5 192.24 407.76 193.98 406.12 195.52 404.27 197.09 402.44 198.94 400.84 200.66 399.11 202.07 397.09 203.65 395.21 205.51 393.55 207.18 391.71 208.66 389.69 210.36 387.84 212.04 385.97 213.38 383.78 214.81 381.67 216.66 379.88 218.4 377.99 219.92 375.9 221.68 373.99 223.47 372.09 224.88 369.87 226.4 367.73 228.28 365.84 229.92 363.76 231.31 361.47 232.97 359.38 234.6 357.24 235.95 354.88 237.65 352.77 239.64 350.86 241.24 348.64 242.77 346.36 244.56 344.25 246.07 341.93 247.47 339.51 249.3 337.39 251.01 335.16 252.33 332.64 253.97 330.34 255.69 328.08 257.15 325.62 258.98 323.41 260.94 321.26 262.36 318.74 263.86 316.25 265.59 313.91 266.99 311.33 268.58 308.87 270.48 306.59 271.9 303.99 273.37 301.41 275.26 299.08 276.85 296.55 278.53 294.06 280.46 291.72 281.81 288.99 283.18 286.26 284.97 283.79 286.45 281.11" stroke="#9c2c94" stroke-width="1.05" fill="none" stroke-linejoin="round" opacity="1"/>
<path d="M286.87 281.25 286.54 282.97 285.97 284.64 285.33 286.3 284.9 287.99 284.73 289.75 284.56 291.5 284.18 293.21 283.66 294.89 283.24 296.6 283 298.34 282.75 300.09 282.3 301.78 281.73 303.46 281.31 305.17 281.15 306.93 281.04 308.71 280.69 310.44 280.11 312.11 279.54 313.79 279.15 315.51 278.8 317.24 278.28 318.93 277.62 320.58 277.07 322.26 276.81 324.02 276.66 325.8 276.35 327.54 275.79 329.23 275.22 330.91 274.83 332.63 274.56 334.39 274.15 336.12 273.57 337.8 273.02 339.48 272.69 341.23 272.49 343.02 272.1 344.75 271.42 346.41 270.68 348.05 270.12 349.74 269.74 351.48 269.29 353.2 268.68 354.88 268.1 356.57 267.75 358.33 267.55 360.13 267.21 361.89 266.58 363.57 265.86 365.22 265.32 366.93 264.95 368.69 264.51 370.44 263.87 372.12 263.2 373.79 262.71 375.52 262.34 377.3 261.83 379.03 261.03 380.67 260.18 382.29 259.54 383.98 259.13 385.75 258.69 387.52 258.06 389.22 257.41 390.92 256.94 392.69 256.57 394.49 256.01 396.24 255.16 397.88 254.27 399.5 253.6 401.21 253.11 402.99 252.5 404.73 251.69 406.4 250.86 408.06 250.22 409.8 249.65 411.58 248.86 413.27 247.87 414.87 246.98 416.52 246.38 418.31 245.89 420.15 245.2 421.91 244.32 423.59 243.49 425.3 242.81 427.09 242.03 428.84 240.98 430.45 239.83 432.03 238.91 433.72 238.21 435.54 237.41 437.32 236.36 438.97 235.28 440.6 234.38 442.36 233.53 444.15 232.46 445.82 231.27 447.43 230.27 449.16 229.51 451.06 228.64 452.9 227.45 454.56 226.17 456.17 225.05 457.89 223.95 459.64 222.6 461.24 221.18 462.79 220.01 464.54 219.03 466.44 217.84 468.21 216.38 469.8 215.01 471.46 213.82 473.3 212.52 475.06 211 476.66 209.6 478.39 208.42 480.32 207.05 482.12 205.31 483.63 203.6 485.17 202.11 486.94" stroke="#9c2c94" stroke-width="1.05" fill="none" stroke-linejoin="round" opacity="1"/>
<path d="M55.29 491.55 56.78 491.16 58.28 490.79 59.8 490.5 61.34 490.25 62.85 489.89 64.32 489.36 65.75 488.7 67.19 488.06 68.68 487.56 70.2 487.13 71.71 486.66 73.18 486.07 74.64 485.42 76.13 484.83 77.65 484.33 79.18 483.81 80.65 483.14 82.08 482.35 83.51 481.57 85.02 480.94 86.59 480.43 88.16 479.89 89.67 479.21 91.14 478.43 92.63 477.68 94.16 476.98 95.67 476.24 97.11 475.33 98.49 474.31 99.89 473.33 101.4 472.51 102.97 471.79 104.51 470.98 105.97 470.04 107.41 469.06 108.92 468.16 110.48 467.31 111.98 466.37 113.4 465.29 114.83 464.21 116.38 463.28 118 462.45 119.58 461.53 121.03 460.41 122.44 459.22 123.9 458.09 125.4 457 126.84 455.81 128.21 454.5 129.63 453.25 131.2 452.19 132.83 451.18 134.38 450.04 135.8 448.74 137.25 447.45 138.8 446.26 140.34 445.05 141.78 443.71 143.21 442.33 144.76 441.08 146.4 439.91 147.91 438.58 149.26 437.04 150.61 435.51 152.09 434.1 153.6 432.7 155.03 431.19 156.48 429.7 158.11 428.38 159.79 427.08 161.29 425.59 162.65 423.94 164.1 422.37 165.68 420.89 167.18 419.33 168.58 417.66 170.08 416.07 171.7 414.56 173.17 412.91 174.45 411.06 175.81 409.28 177.4 407.68 178.98 406.06 180.45 404.32 182.02 402.66 183.71 401.07 185.21 399.3 186.49 397.34 187.9 395.47 189.5 393.74 191 391.91 192.39 389.96 193.91 388.12 195.48 386.3 196.83 384.27 198.15 382.22 199.78 380.39 201.48 378.59 202.98 376.62 204.48 374.64 206.09 372.72 207.47 370.62 208.7 368.38 210.21 366.33 211.86 364.37 213.29 362.24 214.7 360.07 216.3 358.02 217.75 355.84 219.1 353.58 220.76 351.52 222.5 349.5 223.92 347.23 225.31 344.94 226.83 342.7 228.13 340.31 229.45 337.92 231.16 335.76 232.76 333.52 234.11 331.09 235.65 328.77 237.22 326.45 238.59 323.99 240.22 321.67 241.93 319.39 243.22 316.83 244.52 314.25 246.04 311.8 247.39 309.23 248.92 306.74 250.72 304.4 252.15 301.82 253.5 299.18 255.14 296.69 256.59 294.07 258.07 291.44 259.74 288.92 261.01 286.14 262.25 283.34 263.88 280.73" stroke="#1515f5" stroke-width="1.05" fill="none" stroke-linejoin="round" opacity="1"/>
<path d="M56.42 491.63 57.87 491.11 59.31 490.53 60.77 490.04 62.28 489.71 63.83 489.47 65.36 489.17 66.86 488.71 68.33 488.18 69.82 487.68 71.34 487.26 72.87 486.83 74.36 486.26 75.8 485.57 77.24 484.86 78.73 484.28 80.28 483.82 81.82 483.31 83.3 482.64 84.73 481.83 86.16 481.03 87.65 480.34 89.16 479.69 90.64 478.95 92.08 478.11 93.53 477.28 95.06 476.6 96.67 476.04 98.26 475.42 99.75 474.61 101.19 473.67 102.64 472.76 104.16 471.94 105.68 471.11 107.13 470.14 108.53 469.08 109.98 468.09 111.54 467.25 113.11 466.42 114.59 465.43 115.97 464.27 117.38 463.14 118.89 462.14 120.45 461.21 121.96 460.17 123.42 459.05 124.93 457.99 126.56 457.07 128.17 456.11 129.64 454.94 130.99 453.6 132.39 452.31 133.91 451.15 135.42 449.98 136.85 448.67 138.26 447.34 139.79 446.13 141.4 445.01 142.91 443.74 144.28 442.29 145.68 440.87 147.25 439.63 148.88 438.43 150.4 437.08 151.85 435.66 153.41 434.32 155.01 433.02 156.45 431.53 157.73 429.85 159.08 428.25 160.64 426.83 162.21 425.4 163.64 423.83 165.1 422.27 166.71 420.83 168.3 419.35 169.69 417.67 171.07 415.96 172.66 414.44 174.34 412.97 175.82 411.31 177.21 409.55 178.72 407.88 180.23 406.19 181.54 404.31 182.83 402.41 184.41 400.73 186.1 399.12 187.59 397.34 189.03 395.49 190.64 393.76 192.2 391.98 193.55 390.01 194.98 388.09 196.65 386.35 198.22 384.5 199.53 382.44 200.92 380.42 202.45 378.49 203.83 376.44 205.19 374.35 206.88 372.49 208.62 370.65 210.05 368.56 211.46 366.44 213.06 364.44 214.5 362.31 215.83 360.09 217.42 358.03 219.04 355.98 220.32 353.67 221.65 351.38 223.25 349.26 224.75 347.05 226.22 344.81 227.98 342.74 229.61 340.56 230.87 338.13 232.3 335.79 233.86 333.52 235.2 331.09 236.68 328.73 238.34 326.47 239.68 323.99 241 321.48 242.7 319.19 244.29 316.81 245.77 314.35 247.48 312 248.9 309.47 250.06 306.76 251.6 304.27 253.15 301.76 254.51 299.12 256.16 296.64 257.67 294.05 258.95 291.32 260.66 288.81 262.34 286.27 263.71 283.54 265.27 280.89" stroke="#2cb4b4" stroke-width="1.05" fill="none" stroke-linejoin="round" opacity="1"/>
<path d="M56.91 491.58 58.36 491.04 59.82 490.56 61.34 490.27 62.9 490.11 64.46 489.88 65.96 489.44 67.41 488.85 68.87 488.26 70.37 487.77 71.87 487.3 73.34 486.71 74.76 485.95 76.17 485.18 77.65 484.57 79.21 484.15 80.79 483.77 82.31 483.22 83.77 482.49 85.22 481.73 86.72 481.09 88.28 480.53 89.8 479.88 91.25 479.07 92.68 478.21 94.19 477.49 95.79 476.93 97.39 476.34 98.87 475.52 100.26 474.49 101.65 473.47 103.12 472.59 104.64 471.76 106.11 470.84 107.52 469.8 108.97 468.83 110.57 468.07 112.23 467.39 113.81 466.55 115.24 465.47 116.64 464.33 118.14 463.32 119.72 462.42 121.24 461.41 122.66 460.24 124.11 459.09 125.68 458.11 127.3 457.16 128.77 456 130.09 454.61 131.43 453.25 132.94 452.11 134.54 451.04 136.06 449.86 137.52 448.59 139.09 447.44 140.79 446.43 142.4 445.27 143.78 443.84 145.1 442.33 146.6 441.01 148.21 439.8 149.72 438.45 151.11 436.95 152.6 435.55 154.21 434.27 155.72 432.86 157.03 431.21 158.38 429.6 159.99 428.24 161.71 426.97 163.26 425.52 164.74 423.97 166.35 422.54 167.98 421.1 169.35 419.4 170.59 417.56 172.07 415.93 173.74 414.47 175.27 412.85 176.64 411.07 178.16 409.41 179.78 407.83 181.22 406.06 182.54 404.18 184.16 402.53 185.97 401.04 187.56 399.33 188.94 397.43 190.45 395.63 191.99 393.83 193.27 391.8 194.58 389.78 196.25 388.04 197.97 386.31 199.37 384.32 200.8 382.33 202.45 380.49 203.98 378.55 205.35 376.46 207.02 374.59 208.83 372.8 210.24 370.7 211.49 368.46 213 366.39 214.47 364.28 215.78 362.04 217.42 360.02 219.26 358.12 220.72 355.93 222.07 353.65 223.74 351.57 225.31 349.41 226.7 347.1 228.39 344.99 230.05 342.83 231.22 340.33 232.54 337.91 234.21 335.71 235.69 333.36 237.26 331.06 239.14 328.94 240.63 326.54 241.88 323.98 243.55 321.67 245.15 319.29 246.51 316.75 248.17 314.37 249.66 311.87 250.8 309.14 252.42 306.7 254.23 304.34 255.74 301.78 257.47 299.34 259.07 296.8 260.22 293.98 261.8 291.39 263.51 288.87 264.83 286.09 266.43 283.46 267.94 280.77" stroke="#c23ac8" stroke-width="1.05" fill="none" stroke-linejoin="round" opacity="1"/>
<path d="M264.19 280.82 263.86 282.52 263.4 284.2 263.07 285.9 263 287.63 263.01 289.38 262.84 291.11 262.42 292.8 261.96 294.49 261.66 296.21 261.47 297.95 261.17 299.67 260.7 301.36 260.27 303.06 260.07 304.82 259.99 306.6 259.74 308.35 259.17 310.03 258.46 311.68 257.89 313.36 257.48 315.08 257.03 316.79 256.43 318.47 255.83 320.15 255.47 321.89 255.29 323.68 255.02 325.45 254.46 327.14 253.77 328.8 253.21 330.49 252.87 332.25 252.52 334 252 335.71 251.42 337.4 250.99 339.13 250.7 340.91 250.3 342.65 249.6 344.31 248.75 345.92 248.06 347.58 247.63 349.31 247.26 351.07 246.76 352.78 246.2 354.48 245.8 356.22 245.56 358.02 245.25 359.79 244.66 361.47 243.9 363.11 243.29 364.79 242.92 366.55 242.61 368.32 242.11 370.03 241.48 371.71 240.94 373.41 240.55 375.16 240.1 376.89 239.4 378.55 238.58 380.17 237.94 381.84 237.6 383.61 237.36 385.4 236.96 387.15 236.42 388.86 235.93 390.58 235.59 392.35 235.18 394.1 234.53 395.78 233.71 397.4 233.03 399.07 232.63 400.83 232.28 402.61 231.74 404.33 231.01 405.99 230.33 407.67 229.8 409.4 229.27 411.14 228.54 412.8 227.72 414.44 227.09 416.15 226.74 417.97 226.42 419.8 225.85 421.56 225.06 423.23 224.31 424.92 223.67 426.66 222.96 428.38 222.02 430.01 221.02 431.61 220.25 433.32 219.69 435.15 219.03 436.93 218.08 438.59 217.02 440.21 216.13 441.91 215.34 443.69 214.41 445.41 213.34 447.06 212.39 448.79 211.67 450.69 210.87 452.56 209.7 454.23 208.32 455.78 207.07 457.42 205.92 459.16 204.61 460.81 203.18 462.39 201.93 464.14 200.85 466.06 199.56 467.84 197.93 469.39 196.36 471.02 195 472.87 193.53 474.66 191.85 476.32 190.28 478.13 188.77 480.05 186.88 481.65 184.73 483.01 182.8 484.67 180.96 486.5" stroke="#1515f5" stroke-width="1.05" fill="none" stroke-linejoin="round" opacity="1"/>
<path d="M264.96 280.78 265.02 282.51 264.96 284.24 264.67 285.95 264.29 287.64 264.03 289.35 263.9 291.09 263.71 292.82 263.32 294.52 262.87 296.21 262.59 297.93 262.49 299.69 262.33 301.45 261.92 303.16 261.33 304.83 260.79 306.51 260.41 308.23 260.05 309.96 259.54 311.65 258.93 313.32 258.46 315.02 258.21 316.79 258 318.57 257.57 320.29 256.94 321.96 256.35 323.64 255.96 325.38 255.63 327.13 255.17 328.85 254.56 330.53 254.03 332.24 253.69 333.99 253.38 335.76 252.85 337.47 252.1 339.11 251.38 340.76 250.89 342.47 250.52 344.22 250.05 345.95 249.45 347.63 248.93 349.34 248.61 351.11 248.34 352.89 247.88 354.62 247.19 356.28 246.52 357.94 246.06 359.67 245.73 361.44 245.29 363.17 244.67 364.85 244.07 366.53 243.65 368.27 243.28 370.03 242.75 371.73 242 373.37 241.29 375.03 240.83 376.75 240.54 378.53 240.17 380.28 239.63 381.99 239.08 383.69 238.69 385.44 238.36 387.21 237.86 388.93 237.13 390.58 236.4 392.23 235.9 393.95 235.56 395.72 235.11 397.47 234.46 399.15 233.78 400.82 233.25 402.54 232.81 404.29 232.24 406 231.48 407.65 230.75 409.32 230.27 411.07 229.95 412.88 229.51 414.65 228.83 416.35 228.09 418.02 227.49 419.76 226.94 421.51 226.21 423.2 225.29 424.83 224.43 426.48 223.81 428.23 223.29 430.03 222.57 431.77 221.64 433.41 220.74 435.07 220 436.83 219.28 438.59 218.36 440.28 217.34 441.92 216.5 443.67 215.83 445.53 215.03 447.34 213.92 448.99 212.71 450.59 211.64 452.29 210.62 454.05 209.41 455.7 208.08 457.29 206.93 459.02 205.94 460.9 204.77 462.68 203.31 464.28 201.87 465.91 200.62 467.73 199.28 469.52 197.72 471.16 196.2 472.87 194.84 474.77 193.27 476.53 191.36 478.01 189.5 479.58 187.83 481.39 186 483.09 184.03 484.71 182.26 486.6" stroke="#2cb4b4" stroke-width="1.05" fill="none" stroke-linejoin="round" opacity="1"/>
<path d="M267.89 280.77 267.76 282.49 267.76 284.22 267.69 285.96 267.46 287.68 267.16 289.39 266.93 291.11 266.74 292.85 266.43 294.57 265.94 296.25 265.39 297.93 264.98 299.63 264.72 301.37 264.45 303.11 264.03 304.82 263.5 306.51 263.04 308.21 262.69 309.94 262.3 311.67 261.78 313.37 261.21 315.05 260.75 316.77 260.48 318.53 260.22 320.31 259.78 322.04 259.2 323.72 258.63 325.42 258.15 327.14 257.67 328.85 257.05 330.53 256.36 332.19 255.79 333.89 255.4 335.64 255.06 337.41 254.57 339.13 253.95 340.81 253.36 342.5 252.9 344.24 252.48 345.98 251.95 347.69 251.35 349.38 250.85 351.1 250.5 352.87 250.15 354.63 249.63 356.35 248.93 358.01 248.25 359.67 247.71 361.38 247.22 363.1 246.65 364.8 246.02 366.48 245.48 368.19 245.13 369.96 244.8 371.73 244.32 373.45 243.67 375.13 243.06 376.81 242.59 378.55 242.18 380.3 241.69 382.02 241.09 383.71 240.54 385.42 240.12 387.17 239.7 388.92 239.11 390.61 238.35 392.26 237.62 393.92 237.08 395.63 236.63 397.38 236.12 399.1 235.52 400.81 234.97 402.53 234.56 404.3 234.14 406.07 233.55 407.78 232.79 409.44 232.07 411.11 231.51 412.85 231.01 414.61 230.39 416.33 229.65 418.01 228.93 419.71 228.32 421.45 227.68 423.18 226.86 424.85 225.94 426.48 225.13 428.16 224.51 429.93 223.92 431.72 223.18 433.46 222.35 435.17 221.57 436.91 220.83 438.68 219.97 440.41 218.9 442.04 217.82 443.66 216.9 445.4 216.06 447.19 215.07 448.92 213.92 450.57 212.79 452.24 211.75 453.99 210.63 455.71 209.34 457.34 208.07 459.01 206.99 460.83 205.93 462.71 204.64 464.45 203.19 466.1 201.79 467.81 200.38 469.55 198.76 471.16 197.08 472.74 195.57 474.51 194.08 476.36 192.35 478.03 190.51 479.63 188.78 481.4 186.98 483.16 185.02 484.8 183.14 486.61" stroke="#c23ac8" stroke-width="1.05" fill="none" stroke-linejoin="round" opacity="1"/>
<rect x="210.6" y="308.5" width="36" height="19" fill="#fff" stroke="#555" stroke-width="1.2"/>
<text x="215" y="323.3" font-size="12.3" text-anchor="start" textLength="27.7" lengthAdjust="spacingAndGlyphs">C-CO</text>
<rect x="260.5" y="354.2" width="34.9" height="52" fill="#fff" stroke="#555" stroke-width="1.2"/>
<text x="264.2" y="367.8" font-size="11.3" text-anchor="start">C-ST</text>
<text x="264.2" y="385" font-size="11.3" text-anchor="start">C-RB</text>
<text x="264.2" y="402.2" font-size="11.3" text-anchor="start">C-RC</text>
<path d="M0.9 0.8H349V267.9H0.9Z" fill="none" stroke="#626262" stroke-width="1.7"/>
<path d="M357.5 1.9H705.8V267.7H357.5Z" fill="none" stroke="#626262" stroke-width="1.7"/>
<path d="M0.9 275.7H348.5V543H0.9Z" fill="none" stroke="#626262" stroke-width="1.7"/>
<path d="M357 276H706.3V543.5H357Z" fill="none" stroke="#626262" stroke-width="1.7"/>
<rect x="0" y="0" width="1.8" height="268" fill="#a0a0a0"/>
<rect x="0" y="275" width="1.8" height="268" fill="#a0a0a0"/>
<path d="M391.3 6.4V230.3M387.3 226.3H695.6M387.3 226.3H395.3M388.5 211.64H394.1M388.5 196.98H394.1M388.5 182.32H394.1M388.5 167.66H394.1M387.3 153H395.3M388.5 138.34H394.1M388.5 123.68H394.1M388.5 109.02H394.1M388.5 94.36H394.1M387.3 79.7H395.3M388.5 65.04H394.1M388.5 50.38H394.1M388.5 35.72H394.1M388.5 21.06H394.1M387.3 6.4H395.3M391.3 222.3V230.3M411.8 223.8V228.8M432.3 223.8V228.8M452.8 223.8V228.8M473.3 222.3V230.3M493.8 223.8V228.8M514.3 223.8V228.8M534.8 223.8V228.8M555.3 222.3V230.3M575.8 223.8V228.8M596.3 223.8V228.8M616.8 223.8V228.8M637.3 222.3V230.3M657.8 223.8V228.8M678.3 223.8V228.8" stroke="#3a3a3a" stroke-width="1" fill="none"/>
<text x="391.3" y="245" font-size="12" text-anchor="middle">0</text>
<text x="473.3" y="245" font-size="12" text-anchor="middle">20</text>
<text x="555.3" y="245" font-size="12" text-anchor="middle">40</text>
<text x="637.3" y="245" font-size="12" text-anchor="middle">60</text>
<text x="383.6" y="230.62" font-size="12" text-anchor="end">0</text>
<text x="383.6" y="157.32" font-size="12" text-anchor="end">1</text>
<text x="383.6" y="84.02" font-size="12" text-anchor="end">2</text>
<text x="383.6" y="10.72" font-size="12" text-anchor="end">3</text>
<text x="533.2" y="264.1" font-size="12.5" text-anchor="middle" textLength="74.5" lengthAdjust="spacingAndGlyphs">Test time in s</text>
<text transform="translate(369 128.2) rotate(-90)" font-size="12" text-anchor="middle" textLength="104.5" lengthAdjust="spacingAndGlyphs">Standard force in N</text>
<text x="529" y="25.4" font-size="19.5" text-anchor="start" textLength="23.5" lengthAdjust="spacingAndGlyphs">(b)</text>
<path d="M391.3 225.6C391.52 225.38 392 225.67 392.6 224.3C393.2 222.93 393.83 224.05 394.9 217.4C395.97 210.75 397.63 196.77 399 184.4C400.37 172.03 401.95 156.02 403.1 143.2C404.25 130.38 405.2 117.35 405.9 107.5C406.6 97.65 407.06 88 407.29 84.1L407.7 85.3 408.11 86.41 408.52 87.53 408.93 88.34 409.34 89.33 409.75 90.37 410.16 91.17 410.57 91.92 410.98 92.65 411.39 93.5 411.8 93.7 412.21 94.19 412.62 95.14 413.03 95.67 413.44 96.54 413.85 97.03 414.26 97.27 414.67 97.79 415.08 97.57 415.49 98.72 415.9 99.24 416.92 98.94 417.95 100.13 418.97 101.18 420 101.21 421.02 102.26 422.05 102.03 423.07 101.81 424.1 102.22 425.12 102.64 426.15 103.35 427.17 103.39 428.2 103.76 429.22 103.16 430.25 103.53 431.27 103.32 432.3 103.92 433.32 104.09 434.35 103.43 435.38 103.26 436.4 103.44 437.42 103.51 438.45 103.5 439.47 103.6 440.5 104.21 441.52 103.86 442.55 104.04 443.57 104.42 444.6 104.41 445.62 104.1 446.65 104.1 447.67 103.57 448.7 103.24 449.72 103.82 450.75 103.22 451.77 103.13 452.8 103.15 453.82 103.83 454.85 103.97 455.88 103.94 456.9 103.95 457.92 103.91 458.95 103.39 459.97 103.03 461 103.08 462.02 103.48 463.05 103.24 464.07 103.04 465.1 103.86 466.12 103.15 467.15 102.83 468.17 102.95 469.2 102.96 470.22 103.26 471.25 103.58 472.27 102.83 473.3 103.34 474.32 102.76 475.35 102.53 476.38 103.18 477.4 103.15 478.42 102.47 479.45 102.71 480.47 103.34 481.5 103.36 482.52 103.3 483.55 102.38 484.57 102.47 485.6 103.22 486.62 102.39 487.65 102.18 488.67 102.53 489.7 102.87 490.72 102.6 491.75 103.07 492.77 103.18 493.8 102.02 494.82 102.37 495.85 102.49 496.88 101.98 497.9 102.54 498.92 101.99 499.95 102.02 500.97 102.72 502 102.64 503.02 102.56 504.05 102.6 505.07 102.16 506.1 102.52 507.12 102.3 508.15 102.61 509.17 101.66 510.2 102.29 511.22 102.14 512.25 101.96 513.27 101.55 514.3 102.1 515.32 101.48 516.35 101.94 517.38 101.88 518.4 101.86 519.42 102.43 520.45 101.9 521.47 102.18 522.5 102.36 523.52 101.39 524.55 102.11 525.57 101.72 526.6 101.39 527.62 101.57 528.65 101.81 529.67 101.55 530.7 101.48 531.72 101.18 532.75 101.96 533.77 101.39 534.8 101.73 535.82 101.67 536.85 101.05 537.88 101.34 538.9 101.24 539.92 100.98 540.95 100.77 541.97 101.3 543 101.07 544.02 101.17 545.05 101.13 546.07 100.89 547.1 101.15 548.12 101.02 549.15 101.06 550.17 100.48 551.2 100.74 552.22 100.5 553.25 100.39 554.27 101.17 555.3 100.79 556.32 100.31 557.35 100.4 558.38 101.21 559.4 101.2 560.42 100.79 561.45 101.2 562.47 100.97 563.5 101.14 564.52 100.4 565.55 100.24 566.57 100.07 567.6 100.93 568.62 100.23 569.65 100.27 570.67 100.86 571.7 99.95 572.72 99.82 573.75 100.68 574.77 99.78 575.8 100.41 576.82 100.28 577.85 99.65 578.88 99.81 579.9 100.58 580.92 100.23 581.95 100.1 582.97 100.28 584 100.42 585.02 100.25 586.05 99.74 587.07 100.54 588.1 99.88 589.12 99.99 590.15 100.46 591.17 100.06 592.2 99.68 593.22 99.79 594.25 100.29 595.27 99.17 596.3 99.37 597.32 99.13 598.35 100.13 599.38 99.91 600.4 100.15 601.42 99.24 602.45 99.82 603.47 99.96 604.5 99.58 605.52 98.97 606.55 99.05 607.57 99.69 608.6 99.79 609.62 98.85 610.65 99.23 611.67 99.05 612.7 99.75 613.72 99.76 614.75 98.98 615.77 99.26 616.8 99.65 617.82 98.6 618.85 98.93 619.88 98.7 620.9 99.53 621.92 98.58 622.95 99.49 623.97 98.51 625 98.97 626.02 99.08 627.05 98.8 628.07 98.32 629.1 99.08 630.12 99.21 631.15 98.71 632.17 99.03 633.2 99.15 634.22 99.06 635.25 99.16 636.27 98.96 637.3 98.8 638.32 98.78 639.35 98.21 640.38 98.74 641.4 98.46 642.42 98.81 643.45 98.58 644.47 98.95 645.5 98.64 646.52 98.89 647.55 98.01 648.57 98.2 649.6 98.6 650.62 98.23 651.65 97.66 652.67 98.61 653.7 97.74 654.72 98.17 655.75 98.06 655.95 97.66C656.26 99.75 657.22 106.04 657.8 110.24C658.38 114.43 658.83 118.33 659.44 122.83C660.06 127.32 660.74 132.25 661.49 137.22C662.24 142.19 663.06 147.46 663.95 152.62C664.84 157.79 665.79 163.12 666.82 168.19C667.84 173.26 668.94 178.35 670.1 183.05C671.26 187.76 672.56 192.49 673.79 196.43C675.02 200.36 676.32 203.83 677.48 206.68C678.64 209.52 679.74 211.63 680.76 213.51C681.78 215.4 683.15 217.24 683.63 217.98" stroke="#1515f5" stroke-width="1.25" fill="none" stroke-linejoin="round" opacity="1"/>
<path d="M391.3 225.6C391.52 225.38 392 225.67 392.6 224.3C393.2 222.93 393.83 224.05 394.9 217.4C395.97 210.75 397.63 196.77 399 184.4C400.37 172.03 401.95 156.02 403.1 143.2C404.25 130.38 405.2 117.11 405.9 107.5C406.6 97.89 407.06 89.22 407.29 85.56L407.7 87.15 408.11 88.36 408.52 89.47 408.93 90.47 409.34 91.64 409.75 92.44 410.16 93.37 410.57 94.24 410.98 95.16 411.39 95.95 411.8 96.87 412.21 97.51 412.62 98.21 413.03 98.27 413.44 99.25 413.85 99.88 414.26 100.47 414.67 100.16 415.08 100.54 415.49 101.17 415.9 102.03 416.92 102.95 417.95 103.65 418.97 104.1 420 105.01 421.02 105.15 422.05 105.77 423.07 105.29 424.1 105.58 425.12 106.34 426.15 106.91 427.17 106.24 428.2 107.17 429.22 107.25 430.25 107.78 431.27 107.42 432.3 107.38 433.32 107.41 434.35 107.82 435.38 107.5 436.4 108.12 437.42 107.84 438.45 108.06 439.47 107.7 440.5 108.14 441.52 108.16 442.55 107.82 443.57 107.9 444.6 107.48 445.62 107.53 446.65 107.26 447.67 107.36 448.7 107.27 449.72 107.06 450.75 107.63 451.77 107.68 452.8 106.88 453.82 107.85 454.85 107.15 455.88 107.22 456.9 107.92 457.92 106.95 458.95 106.86 459.97 107.15 461 107.01 462.02 106.89 463.05 107.67 464.07 107.19 465.1 107.18 466.12 106.77 467.15 106.78 468.17 106.73 469.2 106.99 470.22 106.6 471.25 106.83 472.27 106.79 473.3 107.32 474.32 107.53 475.35 107.38 476.38 107.09 477.4 107.37 478.42 106.48 479.45 106.78 480.47 106.67 481.5 106.65 482.52 106.56 483.55 106.77 484.57 107.32 485.6 106.35 486.62 106.38 487.65 106.65 488.67 106.59 489.7 106.42 490.72 107.1 491.75 106.28 492.77 106.83 493.8 107.01 494.82 106.76 495.85 106.19 496.88 106.78 497.9 106.12 498.92 105.82 499.95 106.37 500.97 106.48 502 106.34 503.02 106.07 504.05 105.95 505.07 106.1 506.1 106.04 507.12 106.69 508.15 106.58 509.17 106.43 510.2 105.83 511.22 106.32 512.25 105.99 513.27 106.62 514.3 106.54 515.32 106.27 516.35 105.76 517.38 105.71 518.4 105.71 519.42 106.14 520.45 105.85 521.47 105.89 522.5 105.86 523.52 106.25 524.55 105.3 525.57 106.1 526.6 105.15 527.62 105.18 528.65 106.25 529.67 105.7 530.7 105.24 531.72 105.04 532.75 105.63 533.77 105.82 534.8 105.87 535.82 104.97 536.85 105.82 537.88 105.36 538.9 105.85 539.92 105.37 540.95 104.84 541.97 105.79 543 104.95 544.02 105.29 545.05 104.82 546.07 105.01 547.1 105.55 548.12 104.73 549.15 105.2 550.17 105.72 551.2 105.72 552.22 105.12 553.25 105.14 554.27 105.29 555.3 105.46 556.32 105.2 557.35 105.2 558.38 104.56 559.4 105.53 560.42 104.61 561.45 104.48 562.47 105.31 563.5 104.33 564.52 104.56 565.55 104.31 566.57 105.01 567.6 104.89 568.62 104.84 569.65 104.1 570.67 104.56 571.7 104.81 572.72 104.7 573.75 104.86 574.77 105.1 575.8 105.02 576.82 104.12 577.85 104.75 578.88 103.95 579.9 104.74 580.92 104.7 581.95 104.38 582.97 104.74 584 104.5 585.02 103.78 586.05 103.84 587.07 103.9 588.1 104.09 589.12 103.73 590.15 103.68 591.17 104.12 592.2 103.89 593.22 104.66 594.25 103.83 595.27 104.14 596.3 103.75 597.32 103.86 598.35 104.26 599.38 104.51 600.4 103.45 601.42 104.37 602.45 103.94 603.47 104.07 604.5 104.1 605.52 103.55 606.55 103.24 607.57 104.07 608.6 103.57 609.62 103.97 610.65 103.64 611.67 103.81 612.7 104.05 613.72 104.04 614.75 103.96 615.77 103.1 616.8 103.56 617.82 103.87 618.85 103.03 619.88 102.9 620.9 103.52 621.92 103.87 622.95 103.78 623.97 103.88 625 103.55 626.02 103.83 627.05 103.63 628.07 103.58 629.1 103.18 630.12 102.78 631.15 102.92 632.17 103.3 633.2 103.27 634.22 103.11 635.25 103.27 636.27 103.29 637.3 103.59 638.32 103.31 639.35 102.47 640.38 103.44 641.4 102.97 642.42 102.79 643.45 102.49 644.47 103.24 645.5 103.15 646.52 103.15 647.55 102.94 648.57 102.86 649.6 102.24 650.62 102.34 651.65 102.28 652.67 103.27 653.7 103.23 654.72 102.4 655.75 102.16 656.69 102.64C656.88 103.9 657.34 106.87 657.8 110.24C658.26 113.6 658.83 118.33 659.44 122.83C660.06 127.32 660.74 132.25 661.49 137.22C662.24 142.19 663.06 147.46 663.95 152.62C664.84 157.79 665.79 163.12 666.82 168.19C667.84 173.26 668.94 178.35 670.1 183.05C671.26 187.76 672.56 192.49 673.79 196.43C675.02 200.36 676.32 203.83 677.48 206.68C678.64 209.52 679.74 211.63 680.76 213.51C681.78 215.4 683.15 217.24 683.63 217.98" stroke="#1aa6a6" stroke-width="1.25" fill="none" stroke-linejoin="round" opacity="1"/>
<path d="M391.3 225.6C391.52 225.38 392 225.67 392.6 224.3C393.2 222.93 393.83 224.05 394.9 217.4C395.97 210.75 397.63 196.77 399 184.4C400.37 172.03 401.95 156.02 403.1 143.2C404.25 130.38 405.2 117.11 405.9 107.5C406.6 97.89 407.06 89.22 407.29 85.56L407.7 86.89 408.11 88.21 408.52 89.35 408.93 90.34 409.34 91.39 409.75 92.35 410.16 93.21 410.57 94.41 410.98 95.32 411.39 96.1 411.8 96.61 412.21 97.19 412.62 97.63 413.03 98.4 413.44 99.03 413.85 99.45 414.26 100.26 414.67 100.65 415.08 101.68 415.49 101.25 415.9 102.31 416.92 102.4 417.95 103.5 418.97 104.58 420 105.36 421.02 105.71 422.05 105.67 423.07 105.96 424.1 106.96 425.12 107.27 426.15 106.96 427.17 107.08 428.2 107.47 429.22 107.8 430.25 107.46 431.27 108.26 432.3 107.99 433.32 107.86 434.35 107.32 435.38 107.74 436.4 107.49 437.42 107.99 438.45 108.3 439.47 108.29 440.5 107.45 441.52 107.76 442.55 108.23 443.57 108.56 444.6 107.99 445.62 107.77 446.65 108.06 447.67 108.24 448.7 107.74 449.72 107.41 450.75 108.23 451.77 108.44 452.8 108.06 453.82 107.94 454.85 107.6 455.88 108.16 456.9 107.42 457.92 107.47 458.95 107.73 459.97 108.06 461 107.13 462.02 107.88 463.05 107.26 464.07 107.93 465.1 107.92 466.12 107.25 467.15 107.78 468.17 106.98 469.2 107.49 470.22 107.84 471.25 107.77 472.27 107.51 473.3 107.19 474.32 106.83 475.35 107.76 476.38 107.44 477.4 107.63 478.42 106.7 479.45 107.66 480.47 107.75 481.5 107.71 482.52 107.29 483.55 106.67 484.57 106.66 485.6 106.81 486.62 106.47 487.65 106.52 488.67 107.21 489.7 107.36 490.72 106.44 491.75 106.64 492.77 107.47 493.8 106.69 494.82 107 495.85 106.98 496.88 107.01 497.9 107.18 498.92 107.35 499.95 107 500.97 106.88 502 106.14 503.02 107.1 504.05 106.08 505.07 106.95 506.1 106.75 507.12 106.18 508.15 106.15 509.17 106.59 510.2 107.02 511.22 106.49 512.25 106.58 513.27 105.91 514.3 106.74 515.32 106.52 516.35 105.86 517.38 106.86 518.4 106.38 519.42 105.88 520.45 105.91 521.47 106.75 522.5 106.73 523.52 106.67 524.55 105.63 525.57 106.39 526.6 105.78 527.62 105.58 528.65 106.22 529.67 106.27 530.7 105.43 531.72 105.81 532.75 106.21 533.77 105.64 534.8 106.09 535.82 106.12 536.85 106.41 537.88 105.49 538.9 105.28 539.92 105.59 540.95 105.2 541.97 106.26 543 105.99 544.02 105.68 545.05 105.08 546.07 105.06 547.1 105.71 548.12 105.84 549.15 105.6 550.17 105.5 551.2 104.96 552.22 105.82 553.25 105.06 554.27 105.11 555.3 104.99 556.32 105.02 557.35 105.19 558.38 105.5 559.4 105.48 560.42 105.41 561.45 104.88 562.47 105.69 563.5 105.53 564.52 104.84 565.55 105.42 566.57 105.61 567.6 105.62 568.62 104.98 569.65 105.22 570.67 104.42 571.7 104.51 572.72 104.36 573.75 105.19 574.77 105.38 575.8 105.34 576.82 104.84 577.85 104.56 578.88 104.85 579.9 105.08 580.92 104.83 581.95 104.57 582.97 104.48 584 104.37 585.02 104.22 586.05 104.41 587.07 105.03 588.1 104.15 589.12 104.78 590.15 104.43 591.17 104.63 592.2 104.18 593.22 104.79 594.25 104.71 595.27 104.68 596.3 104.77 597.32 103.88 598.35 104.21 599.38 104.49 600.4 104.38 601.42 103.65 602.45 104.2 603.47 104.5 604.5 103.79 605.52 103.95 606.55 103.52 607.57 104.55 608.6 104.08 609.62 103.65 610.65 103.6 611.67 103.49 612.7 104.5 613.72 104.17 614.75 104.35 615.77 104.24 616.8 103.29 617.82 103.73 618.85 103.29 619.88 103.93 620.9 103.32 621.92 103.79 622.95 103.98 623.97 103.34 625 103.12 626.02 104.09 627.05 103.48 628.07 103.43 629.1 103.88 630.12 103.68 631.15 103.92 632.17 103.82 633.2 103.74 634.22 103.3 635.25 103.22 636.27 103.72 637.3 103.93 638.32 103.53 639.35 103.08 640.38 103.64 641.4 103.47 642.42 103.57 643.45 102.84 644.47 103.11 645.5 103.66 646.52 103.59 647.55 103.22 648.57 103.01 649.6 102.88 650.62 103.5 651.65 103.39 652.67 102.73 653.7 103.05 654.72 103.17 655.75 103.12 656.69 102.33C656.88 103.65 657.34 106.82 657.8 110.24C658.26 113.65 658.83 118.33 659.44 122.83C660.06 127.32 660.74 132.25 661.49 137.22C662.24 142.19 663.06 147.46 663.95 152.62C664.84 157.79 665.79 163.12 666.82 168.19C667.84 173.26 668.94 178.35 670.1 183.05C671.26 187.76 672.56 192.49 673.79 196.43C675.02 200.36 676.32 203.83 677.48 206.68C678.64 209.52 679.74 211.63 680.76 213.51C681.78 215.4 683.15 217.24 683.63 217.98" stroke="#222" stroke-width="1.25" fill="none" stroke-linejoin="round" opacity="1"/>
<path d="M391.3 225.6C391.52 225.38 392 225.67 392.6 224.3C393.2 222.93 393.83 224.05 394.9 217.4C395.97 210.75 397.63 196.77 399 184.4C400.37 172.03 401.95 156.02 403.1 143.2C404.25 130.38 405.2 117.11 405.9 107.5C406.6 97.89 407.06 89.22 407.29 85.56L407.7 86.89 408.11 88.12 408.52 89.32 408.93 90.42 409.34 91.33 409.75 92.24 410.16 93.39 410.57 94.35 410.98 94.9 411.39 95.97 411.8 96.85 412.21 96.92 412.62 97.91 413.03 98.2 413.44 99.12 413.85 99.21 414.26 100.12 414.67 100.92 415.08 101.56 415.49 101.37 415.9 101.67 416.92 102.25 417.95 103.99 418.97 104.02 420 104.89 421.02 105.22 422.05 106.07 423.07 106.26 424.1 106.28 425.12 106.06 426.15 107.25 427.17 106.99 428.2 106.77 429.22 106.71 430.25 107.74 431.27 107.92 432.3 107.02 433.32 107.05 434.35 107.68 435.38 108.23 436.4 107.23 437.42 107.89 438.45 107.3 439.47 107.65 440.5 107.41 441.52 108.2 442.55 107.46 443.57 108.12 444.6 107.9 445.62 107.36 446.65 107.37 447.67 108.12 448.7 108.07 449.72 107.83 450.75 107.68 451.77 107.82 452.8 108.11 453.82 107.94 454.85 107.35 455.88 107.13 456.9 108.12 457.92 107.48 458.95 107.22 459.97 108.06 461 107.08 462.02 107.91 463.05 107.32 464.07 107.35 465.1 107.24 466.12 107.59 467.15 107.44 468.17 107.22 469.2 107.38 470.22 107.08 471.25 107.31 472.27 107.29 473.3 107.76 474.32 107.03 475.35 107.16 476.38 107.43 477.4 106.78 478.42 106.74 479.45 107.09 480.47 107.4 481.5 107.03 482.52 107.44 483.55 107.39 484.57 107 485.6 107.38 486.62 106.94 487.65 106.83 488.67 107.37 489.7 106.63 490.72 107.27 491.75 106.47 492.77 106.39 493.8 106.68 494.82 107.2 495.85 106.64 496.88 106.77 497.9 106.06 498.92 107 499.95 106.12 500.97 105.93 502 106.22 503.02 106.1 504.05 106.81 505.07 105.85 506.1 106.41 507.12 105.83 508.15 105.85 509.17 106.72 510.2 105.96 511.22 105.76 512.25 106.76 513.27 106.4 514.3 105.89 515.32 106.58 516.35 105.68 517.38 106.39 518.4 105.72 519.42 106.5 520.45 106.05 521.47 105.53 522.5 106.35 523.52 106.26 524.55 105.94 525.57 106.14 526.6 106.45 527.62 106.25 528.65 106.25 529.67 105.31 530.7 105.59 531.72 105.31 532.75 106.14 533.77 105.39 534.8 106.16 535.82 105.64 536.85 105.49 537.88 105.79 538.9 105.16 539.92 105.51 540.95 105.46 541.97 105.07 543 105.97 544.02 104.89 545.05 105.3 546.07 105.55 547.1 105.05 548.12 105.66 549.15 104.77 550.17 105.23 551.2 105.47 552.22 104.96 553.25 105.32 554.27 105.61 555.3 104.91 556.32 105.71 557.35 104.77 558.38 105.42 559.4 104.94 560.42 104.5 561.45 104.95 562.47 104.83 563.5 105.22 564.52 105.57 565.55 105.51 566.57 105.34 567.6 104.76 568.62 104.96 569.65 104.84 570.67 104.36 571.7 105.24 572.72 105.1 573.75 104.57 574.77 105.3 575.8 105.29 576.82 104.85 577.85 105.12 578.88 104.8 579.9 104.93 580.92 104.48 581.95 104.45 582.97 104.88 584 104.36 585.02 104.51 586.05 104.89 587.07 103.91 588.1 104.71 589.12 104.8 590.15 104.83 591.17 104.16 592.2 103.86 593.22 103.94 594.25 104.37 595.27 104.51 596.3 104.78 597.32 104.01 598.35 104.08 599.38 104.31 600.4 103.93 601.42 104.15 602.45 103.54 603.47 103.75 604.5 104.3 605.52 103.5 606.55 104.5 607.57 103.89 608.6 104.02 609.62 104.19 610.65 104.38 611.67 103.5 612.7 104.38 613.72 103.72 614.75 103.23 615.77 104.16 616.8 104.06 617.82 103.55 618.85 103.65 619.88 103.46 620.9 103.23 621.92 103.97 622.95 103.78 623.97 103.77 625 104.04 626.02 103.02 627.05 103.12 628.07 103.18 629.1 103.99 630.12 102.97 631.15 103.07 632.17 103.37 633.2 103.02 634.22 103.34 635.25 103.58 636.27 103.7 637.3 103.53 638.32 103.73 639.35 103.35 640.38 102.84 641.4 102.88 642.42 102.67 643.45 102.81 644.47 103.31 645.5 102.94 646.52 103.06 647.55 102.62 648.57 102.91 649.6 103.19 650.62 102.71 651.65 102.31 652.67 103.17 653.7 102.36 654.72 103.36 655.75 103.04 656.69 103.05C656.88 104.25 657.34 106.94 657.8 110.24C658.26 113.53 658.83 118.33 659.44 122.83C660.06 127.32 660.74 132.25 661.49 137.22C662.24 142.19 663.06 147.46 663.95 152.62C664.84 157.79 665.79 163.12 666.82 168.19C667.84 173.26 668.94 178.35 670.1 183.05C671.26 187.76 672.56 192.49 673.79 196.43C675.02 200.36 676.32 203.83 677.48 206.68C678.64 209.52 679.74 211.63 680.76 213.51C681.78 215.4 683.15 217.24 683.63 217.98" stroke="#c23ac8" stroke-width="1.25" fill="none" stroke-linejoin="round" opacity="1"/>
<path d="M391.3 225.6C391.52 225.38 392 225.67 392.6 224.3C393.2 222.93 393.83 224.05 394.9 217.4C395.97 210.75 397.63 196.77 399 184.4C400.37 172.03 401.95 156.02 403.1 143.2C404.25 130.38 405.2 117.23 405.9 107.5C406.6 97.77 407.06 88.61 407.29 84.83L407.7 86.43 408.11 87.56 408.52 88.68 408.93 89.81 409.34 90.63 409.75 91.73 410.16 92.65 410.57 93.17 410.98 94.07 411.39 94.75 411.8 95.45 412.21 95.86 412.62 96.83 413.03 97.1 413.44 97.75 413.85 98.09 414.26 98.97 414.67 99.12 415.08 99.71 415.49 100.41 415.9 100.91 416.92 101.26 417.95 102.64 418.97 102.27 420 103.72 421.02 104.32 422.05 104.61 423.07 103.97 424.1 104.95 425.12 105.43 426.15 105.77 427.17 105.93 428.2 105.3 429.22 105.5 430.25 105.52 431.27 105.56 432.3 106.42 433.32 105.86 434.35 106.17 435.38 105.67 436.4 105.69 437.42 105.62 438.45 106.62 439.47 105.67 440.5 105.62 441.52 105.58 442.55 106.57 443.57 106.44 444.6 106.54 445.62 106.62 446.65 105.64 447.67 105.67 448.7 105.86 449.72 105.61 450.75 105.82 451.77 106.21 452.8 106.41 453.82 106.39 454.85 105.58 455.88 106.21 456.9 106.05 457.92 105.9 458.95 106.36 459.97 106.05 461 106 462.02 105.45 463.05 105.84 464.07 105.87 465.1 105.08 466.12 105.6 467.15 105.16 468.17 105.41 469.2 106.08 470.22 105.6 471.25 105.55 472.27 105.12 473.3 105.6 474.32 105.15 475.35 105.32 476.38 105.67 477.4 104.88 478.42 105.76 479.45 104.87 480.47 105.62 481.5 105.79 482.52 105.52 483.55 104.83 484.57 104.55 485.6 105.68 486.62 105.07 487.65 105.04 488.67 104.65 489.7 105.35 490.72 104.96 491.75 105.1 492.77 104.5 493.8 105.15 494.82 104.31 495.85 105.07 496.88 105.12 497.9 104.52 498.92 104.73 499.95 105.17 500.97 104.51 502 105.15 503.02 104.28 504.05 104.36 505.07 104.22 506.1 104.39 507.12 104.68 508.15 104.6 509.17 104.58 510.2 103.96 511.22 104.89 512.25 103.91 513.27 104.91 514.3 104.67 515.32 104.57 516.35 103.79 517.38 104.23 518.4 104.35 519.42 103.72 520.45 104.47 521.47 104.17 522.5 104.06 523.52 103.77 524.55 103.74 525.57 103.84 526.6 104.17 527.62 104.17 528.65 104.34 529.67 103.5 530.7 103.69 531.72 103.56 532.75 104.22 533.77 103.87 534.8 103.44 535.82 103.65 536.85 104.16 537.88 103.73 538.9 103.2 539.92 103.94 540.95 103.97 541.97 103.81 543 103.31 544.02 103.11 545.05 103.9 546.07 103.87 547.1 103.74 548.12 103.62 549.15 103.36 550.17 103.76 551.2 103.53 552.22 103.67 553.25 102.71 554.27 102.97 555.3 103.69 556.32 102.64 557.35 103.64 558.38 103.27 559.4 102.53 560.42 102.73 561.45 102.78 562.47 103.1 563.5 103.36 564.52 102.81 565.55 103.41 566.57 103.26 567.6 103.02 568.62 103.41 569.65 102.95 570.67 102.46 571.7 102.55 572.72 102.75 573.75 102.57 574.77 102.74 575.8 103.09 576.82 102.52 577.85 102.73 578.88 102.3 579.9 102.07 580.92 102.61 581.95 102.42 582.97 102.18 584 102.54 585.02 102.74 586.05 102.13 587.07 101.91 588.1 102.01 589.12 102.07 590.15 101.87 591.17 102.04 592.2 102.06 593.22 102.26 594.25 102.4 595.27 101.99 596.3 102.6 597.32 102.19 598.35 101.73 599.38 101.78 600.4 101.85 601.42 102.28 602.45 102.04 603.47 101.98 604.5 101.75 605.52 101.98 606.55 101.64 607.57 101.31 608.6 102.17 609.62 101.58 610.65 101.4 611.67 101.84 612.7 101.69 613.72 101.09 614.75 102.17 615.77 101.55 616.8 101.97 617.82 101.21 618.85 100.99 619.88 101.46 620.9 101.93 621.92 101.34 622.95 101.36 623.97 101.12 625 101.33 626.02 101.16 627.05 100.9 628.07 101.24 629.1 101.35 630.12 100.68 631.15 101.53 632.17 100.94 633.2 101.26 634.22 100.79 635.25 101.52 636.27 100.47 637.3 101.19 638.32 101.52 639.35 101.23 640.38 101.06 641.4 101.49 642.42 100.98 643.45 100.95 644.47 100.59 645.5 100.98 646.52 101.05 647.55 101.07 648.57 100.43 649.6 100.17 650.62 100.63 651.65 100.97 652.67 100.25 653.7 100.71 654.72 100.89 655.75 100.96 656.16 100.19C656.43 101.86 657.25 106.46 657.8 110.24C658.35 114.01 658.83 118.33 659.44 122.83C660.06 127.32 660.74 132.25 661.49 137.22C662.24 142.19 663.06 147.46 663.95 152.62C664.84 157.79 665.79 163.12 666.82 168.19C667.84 173.26 668.94 178.35 670.1 183.05C671.26 187.76 672.56 192.49 673.79 196.43C675.02 200.36 676.32 203.83 677.48 206.68C678.64 209.52 679.74 211.63 680.76 213.51C681.78 215.4 683.15 217.24 683.63 217.98" stroke="#157a3c" stroke-width="1.25" fill="none" stroke-linejoin="round" opacity="1"/>
<path d="M391.3 225.6C391.52 225.38 392 225.67 392.6 224.3C393.2 222.93 393.83 224.05 394.9 217.4C395.97 210.75 397.63 196.77 399 184.4C400.37 172.03 401.95 156.02 403.1 143.2C404.25 130.38 405.2 117.11 405.9 107.5C406.6 97.89 407.06 89.22 407.29 85.56" stroke="#c23ac8" stroke-width="1.2" fill="none" stroke-dasharray="3 2"/>
<path d="M656.69 102.74C656.88 103.99 657.34 106.89 657.8 110.24C658.26 113.58 658.83 118.33 659.44 122.83C660.06 127.32 660.74 132.25 661.49 137.22C662.24 142.19 663.06 147.46 663.95 152.62C664.84 157.79 665.79 163.12 666.82 168.19C667.84 173.26 668.94 178.35 670.1 183.05C671.26 187.76 672.56 192.49 673.79 196.43C675.02 200.36 676.32 203.83 677.48 206.68C678.64 209.52 679.74 211.63 680.76 213.51C681.78 215.4 683.15 217.24 683.63 217.98" stroke="#c23ac8" stroke-width="1.2" fill="none" stroke-dasharray="3 2"/>
<rect x="398.2" y="63.8" width="47.1" height="17.4" fill="#fff" stroke="#555" stroke-width="1.2"/>
<text x="401.5" y="76.6" font-size="12.4" text-anchor="start" textLength="40.8" lengthAdjust="spacingAndGlyphs">(t1, F1)</text>
<rect x="644.2" y="76.8" width="47" height="17.5" fill="#fff" stroke="#555" stroke-width="1.2"/>
<text x="647.1" y="89.4" font-size="12.4" text-anchor="start" textLength="40.4" lengthAdjust="spacingAndGlyphs">(t2, F2)</text>
<rect x="468.6" y="110.6" width="132" height="17.6" fill="#fff" stroke="#555" stroke-width="1.2"/>
<text x="472.5" y="124.2" font-size="12" text-anchor="start" textLength="125" lengthAdjust="spacingAndGlyphs">I-CO / I-ST / I-RB / I-RC</text>
<path d="M391.3 279.41V505.2M387.3 501.2H698.9M387.3 501.2H395.3M388.5 486.41H394.1M388.5 471.63H394.1M388.5 456.84H394.1M388.5 442.06H394.1M387.3 427.27H395.3M388.5 412.48H394.1M388.5 397.7H394.1M388.5 382.91H394.1M388.5 368.13H394.1M387.3 353.34H395.3M388.5 338.55H394.1M388.5 323.77H394.1M388.5 308.98H394.1M388.5 294.2H394.1M387.3 279.41H395.3M391.3 497.2V505.2M411.95 498.7V503.7M432.6 498.7V503.7M453.25 498.7V503.7M473.9 497.2V505.2M494.55 498.7V503.7M515.2 498.7V503.7M535.85 498.7V503.7M556.5 497.2V505.2M577.15 498.7V503.7M597.8 498.7V503.7M618.45 498.7V503.7M639.1 497.2V505.2M659.75 498.7V503.7M680.4 498.7V503.7" stroke="#3a3a3a" stroke-width="1" fill="none"/>
<text x="391.3" y="520" font-size="12" text-anchor="middle">0</text>
<text x="473.9" y="520" font-size="12" text-anchor="middle">20</text>
<text x="556.5" y="520" font-size="12" text-anchor="middle">40</text>
<text x="639.1" y="520" font-size="12" text-anchor="middle">60</text>
<text x="383.3" y="505.52" font-size="12" text-anchor="end">0</text>
<text x="383.3" y="431.59" font-size="12" text-anchor="end">1</text>
<text x="383.3" y="357.66" font-size="12" text-anchor="end">2</text>
<text x="383.3" y="283.73" font-size="12" text-anchor="end">3</text>
<text x="534.6" y="539.9" font-size="12.5" text-anchor="middle" textLength="76" lengthAdjust="spacingAndGlyphs">Test time in s</text>
<text transform="translate(369 402.4) rotate(-90)" font-size="12" text-anchor="middle" textLength="104.6" lengthAdjust="spacingAndGlyphs">Standard force in N</text>
<text x="535" y="300.5" font-size="19.5" text-anchor="start" textLength="23" lengthAdjust="spacingAndGlyphs">(d)</text>
<path d="M391.2 499.8C391.5 499.7 392.38 499.63 393 499.2C393.62 498.77 394.25 501.02 394.9 497.2C395.55 493.38 396 486.28 396.9 476.3C397.8 466.32 399.32 448.85 400.3 437.3C401.28 425.75 402.02 416.88 402.8 407C403.58 397.12 404.06 394.34 405 378C405.94 361.66 407.87 320.48 408.44 308.98L408.85 310.94 409.27 312.98 409.68 314.89 410.09 316.61 410.5 318.31 410.92 319.55 411.33 321.16 411.74 322.31 412.16 323.39 412.57 324.47 412.98 325.69 413.4 326.76 413.81 327.45 414.22 328.62 414.63 328.76 415.05 329.9 415.46 330.05 415.87 331.27 416.29 331.73 416.7 332.41 417.11 332.69 418.14 334.08 419.18 335.22 420.21 335.15 421.24 336.35 422.27 336.98 423.31 337.42 424.34 337.65 425.37 338.1 426.4 338.2 427.44 338.48 428.47 339.11 429.5 338.69 430.53 339.01 431.57 340.17 432.6 339.45 433.63 339.53 434.66 339.85 435.7 340.78 436.73 340.1 437.76 340.47 438.79 341.35 439.83 341.47 440.86 340.47 441.89 340.93 442.92 341.52 443.96 341.8 444.99 341.85 446.02 341.83 447.05 341.27 448.09 341.87 449.12 342.18 450.15 341.36 451.19 341.57 452.22 342.38 453.25 341.58 454.28 341.98 455.31 341.84 456.35 342.03 457.38 341.81 458.41 341.99 459.44 341.98 460.48 342.79 461.51 342.24 462.54 342.48 463.57 342.27 464.61 342.67 465.64 342.17 466.67 342.6 467.7 342.98 468.74 343.04 469.77 343.18 470.8 342.78 471.83 343.33 472.87 342.86 473.9 343.27 474.93 342.87 475.96 342.88 477 342.85 478.03 342.47 479.06 343.51 480.09 342.52 481.13 342.98 482.16 342.88 483.19 342.76 484.22 342.56 485.26 343.12 486.29 343.07 487.32 342.43 488.35 343.49 489.39 342.82 490.42 342.82 491.45 343.54 492.49 342.85 493.52 342.76 494.55 342.45 495.58 343.17 496.62 342.38 497.65 342.94 498.68 342.97 499.71 342.46 500.75 343.49 501.78 342.66 502.81 342.76 503.84 343.1 504.88 342.46 505.91 343.04 506.94 342.9 507.97 342.82 509 342.52 510.04 343.17 511.07 342.89 512.1 342.89 513.13 342.72 514.17 342.37 515.2 343 516.23 342.34 517.26 342.83 518.3 342.69 519.33 342.95 520.36 342.65 521.39 342.07 522.43 342.44 523.46 342.25 524.49 342.78 525.52 342.78 526.56 342.78 527.59 342.41 528.62 342.33 529.65 342.13 530.69 343 531.72 342.16 532.75 341.94 533.78 342.33 534.82 342.9 535.85 342.58 536.88 342.9 537.91 342.66 538.95 341.76 539.98 342.11 541.01 342.03 542.04 341.85 543.08 341.68 544.11 342.01 545.14 341.98 546.17 341.94 547.21 341.83 548.24 341.92 549.27 341.8 550.3 342.33 551.34 341.76 552.37 341.98 553.4 341.59 554.43 342.36 555.47 342.23 556.5 342.38 557.53 341.47 558.56 341.27 559.6 341.56 560.63 341.87 561.66 341.3 562.69 341.32 563.73 341.56 564.76 341.89 565.79 341.81 566.83 341.64 567.86 341.74 568.89 341.57 569.92 341.29 570.95 340.91 571.99 341.94 573.02 341.29 574.05 341.9 575.09 341.77 576.12 340.92 577.15 341.17 578.18 340.73 579.21 341.26 580.25 341.75 581.28 341.28 582.31 341 583.35 340.56 584.38 340.48 585.41 341.05 586.44 341.1 587.47 341.44 588.51 340.76 589.54 341.25 590.57 341.29 591.61 341.42 592.64 341.41 593.67 340.56 594.7 341.21 595.74 340.17 596.77 341.19 597.8 340.22 598.83 341.08 599.87 341.18 600.9 340.31 601.93 340.85 602.96 340.23 604 340.86 605.03 340.99 606.06 340.09 607.09 340.13 608.12 339.93 609.16 340.05 610.19 340.8 611.22 340.11 612.25 339.99 613.29 340.25 614.32 339.66 615.35 340.44 616.38 339.56 617.42 339.82 618.45 340.64 619.48 340.6 620.51 339.81 621.55 339.58 622.58 340.43 623.61 340.13 624.64 339.59 625.68 340.24 626.71 339.37 627.74 339.79 628.77 340.27 629.81 339.87 630.84 339.59 631.87 339.72 632.9 339.41 633.94 340.01 634.97 339.2 636 339.69 637.03 339.32 638.07 339.31 639.1 339.53 640.13 339.54 641.16 339.03 642.2 338.81 643.23 338.97 644.26 339.2 645.29 339.5 646.33 339.74 647.36 338.62 648.39 338.91 649.42 338.73 650.46 339.29 651.49 338.93 652.52 338.46 653.55 338.6 654.59 338.85 655.62 339.17 656.65 338.99 657.68 338.41 658.3 339C658.51 342.6 659.1 354.68 659.54 360.56C659.99 366.45 660.4 369.03 660.99 374.33C661.57 379.62 662.3 386.14 663.05 392.34C663.81 398.54 664.64 405.12 665.53 411.54C666.43 417.95 667.39 424.56 668.42 430.83C669.46 437.1 670.56 443.37 671.73 449.14C672.9 454.92 674.2 460.69 675.44 465.49C676.68 470.28 677.92 474.33 679.16 477.91C680.4 481.49 681.71 484.51 682.88 486.98C684.05 489.44 685.63 491.73 686.18 492.69" stroke="#8e1232" stroke-width="1.25" fill="none" stroke-linejoin="round" opacity="1"/>
<path d="M391.2 499.8C391.5 499.7 392.38 499.63 393 499.2C393.62 498.77 394.25 501.02 394.9 497.2C395.55 493.38 396 486.28 396.9 476.3C397.8 466.32 399.32 448.85 400.3 437.3C401.28 425.75 402.02 416.88 402.8 407C403.58 397.12 404.06 394.71 405 378C405.94 361.29 407.87 318.64 408.44 306.76L408.85 308.81 409.27 310.84 409.68 312.67 410.09 314.4 410.5 316.15 410.92 317.75 411.33 319.05 411.74 320.27 412.16 321.37 412.57 322.32 412.98 323.27 413.4 324.8 413.81 325.08 414.22 325.89 414.63 326.58 415.05 327.54 415.46 328.49 415.87 328.49 416.29 329.09 416.7 329.75 417.11 329.96 418.14 331.74 419.18 332.98 420.21 333.2 421.24 333.59 422.27 334.88 423.31 334.73 424.34 334.96 425.37 336.18 426.4 336.08 427.44 336.31 428.47 336.84 429.5 337.4 430.53 337.57 431.57 337.19 432.6 337.34 433.63 337.91 434.66 338.53 435.7 337.82 436.73 338.01 437.76 338.8 438.79 338.51 439.83 338.26 440.86 338.39 441.89 338.94 442.92 339.1 443.96 339.06 444.99 339.64 446.02 339.73 447.05 339.83 448.09 339.29 449.12 339.77 450.15 339.61 451.19 339.87 452.22 339.8 453.25 340.31 454.28 340.5 455.31 339.42 456.35 340.22 457.38 340.59 458.41 340.02 459.44 339.88 460.48 340.68 461.51 340.2 462.54 340.54 463.57 340.37 464.61 341 465.64 341.02 466.67 339.91 467.7 340.09 468.74 340.57 469.77 340.5 470.8 340.89 471.83 340.3 472.87 340.74 473.9 340.14 474.93 340.37 475.96 340.33 477 340.17 478.03 341.03 479.06 341.3 480.09 341.12 481.13 341.15 482.16 341.28 483.19 341.33 484.22 340.73 485.26 340.35 486.29 340.85 487.32 340.27 488.35 340.32 489.39 341.33 490.42 340.69 491.45 340.93 492.49 341.26 493.52 340.25 494.55 341.09 495.58 340.71 496.62 340.62 497.65 340.23 498.68 340.57 499.71 340.89 500.75 340.82 501.78 341.15 502.81 340.18 503.84 340.14 504.88 341.05 505.91 341.25 506.94 340.98 507.97 340.85 509 340.18 510.04 340.16 511.07 340.23 512.1 341.16 513.13 340.26 514.17 340.33 515.2 340.39 516.23 339.97 517.26 341.06 518.3 340.94 519.33 340.19 520.36 339.95 521.39 340.24 522.43 340.68 523.46 340.31 524.49 340.09 525.52 340.85 526.56 340.56 527.59 340.62 528.62 340.76 529.65 340.31 530.69 340.66 531.72 340.55 532.75 340.65 533.78 339.98 534.82 340.76 535.85 339.89 536.88 340.49 537.91 340.65 538.95 339.56 539.98 340.38 541.01 339.5 542.04 339.56 543.08 339.51 544.11 340.38 545.14 339.99 546.17 340.38 547.21 339.36 548.24 339.43 549.27 339.66 550.3 339.85 551.34 339.96 552.37 339.35 553.4 339.74 554.43 339.53 555.47 340.08 556.5 339.96 557.53 340.13 558.56 339.32 559.6 339.48 560.63 339.94 561.66 339.04 562.69 339.74 563.73 339.54 564.76 339.82 565.79 339.65 566.83 338.94 567.86 339.52 568.89 339.69 569.92 339.27 570.95 339.45 571.99 338.72 573.02 339.63 574.05 338.57 575.09 339.64 576.12 338.61 577.15 338.85 578.18 339.37 579.21 339.02 580.25 339.22 581.28 339.23 582.31 339.26 583.35 339.04 584.38 338.26 585.41 338.22 586.44 338.28 587.47 339.24 588.51 338.98 589.54 338.22 590.57 339.2 591.61 338.36 592.64 338.85 593.67 338 594.7 339.12 595.74 338.15 596.77 338.67 597.8 338.88 598.83 339.02 599.87 337.99 600.9 338.33 601.93 338.71 602.96 338.38 604 337.77 605.03 338.57 606.06 338.12 607.09 338.61 608.12 338.53 609.16 337.79 610.19 337.83 611.22 338.41 612.25 338.52 613.29 338.48 614.32 337.83 615.35 337.93 616.38 338.17 617.42 338.22 618.45 337.7 619.48 337.55 620.51 337.4 621.55 337.64 622.58 338.07 623.61 338.2 624.64 337.37 625.68 337.73 626.71 337.32 627.74 338.09 628.77 337.15 629.81 337.69 630.84 337.05 631.87 336.99 632.9 337.4 633.94 337.95 634.97 336.84 636 337.33 637.03 336.83 638.07 337.52 639.1 337.58 640.13 336.78 641.16 337.3 642.2 337.52 643.23 337.24 644.26 336.94 645.29 337.61 646.33 336.96 647.36 337.02 648.39 336.91 649.42 337.35 650.46 336.6 651.49 336.45 652.52 336.36 653.55 336.98 654.59 336.48 655.62 336.85 656.65 336.37 657.68 337.17 658.1 336.18C658.34 340.24 659.06 354.21 659.54 360.56C660.03 366.92 660.4 369.03 660.99 374.33C661.57 379.62 662.3 386.14 663.05 392.34C663.81 398.54 664.64 405.12 665.53 411.54C666.43 417.95 667.39 424.56 668.42 430.83C669.46 437.1 670.56 443.37 671.73 449.14C672.9 454.92 674.2 460.69 675.44 465.49C676.68 470.28 677.92 474.33 679.16 477.91C680.4 481.49 681.71 484.51 682.88 486.98C684.05 489.44 685.63 491.73 686.18 492.69" stroke="#a236a6" stroke-width="1.3" fill="none" stroke-linejoin="round" opacity="1"/>
<path d="M391.2 499.8C391.5 499.7 392.38 499.63 393 499.2C393.62 498.77 394.25 501.02 394.9 497.2C395.55 493.38 396 486.28 396.9 476.3C397.8 466.32 399.32 448.85 400.3 437.3C401.28 425.75 402.02 416.88 402.8 407C403.58 397.12 404.06 392.86 405 378C405.94 363.14 407.87 327.88 408.44 317.85L408.85 320.19 409.27 322.37 409.68 324.33 410.09 326.13 410.5 327.76 410.92 329.45 411.33 330.45 411.74 332.04 412.16 333.23 412.57 334.36 412.98 335.25 413.4 335.75 413.81 337.17 414.22 337.9 414.63 338.08 415.05 339.19 415.46 339.98 415.87 339.93 416.29 340.46 416.7 340.99 417.11 341.21 418.14 342.89 419.18 342.77 420.21 343.64 421.24 345.02 422.27 345.43 423.31 345.42 424.34 345.79 425.37 346.38 426.4 346.87 427.44 346.79 428.47 347.35 429.5 347.02 430.53 346.89 431.57 347.92 432.6 347.57 433.63 347.51 434.66 348.35 435.7 347.68 436.73 347.66 437.76 348.43 438.79 348.49 439.83 348.08 440.86 348.54 441.89 348.78 442.92 348.2 443.96 348.46 444.99 349.05 446.02 349.22 447.05 349.16 448.09 349.09 449.12 348.49 450.15 348.74 451.19 348.65 452.22 348.8 453.25 348.8 454.28 349.78 455.31 349.25 456.35 348.75 457.38 348.8 458.41 349.64 459.44 349.46 460.48 349.22 461.51 349.56 462.54 349.37 463.57 349.94 464.61 349.51 465.64 349.44 466.67 350.03 467.7 349.89 468.74 348.9 469.77 349.14 470.8 348.95 471.83 349.32 472.87 349.11 473.9 349.02 474.93 349.02 475.96 350.04 477 349.31 478.03 349.76 479.06 349.27 480.09 349.75 481.13 349.42 482.16 348.96 483.19 349.32 484.22 349.76 485.26 349.43 486.29 349.53 487.32 348.91 488.35 349.7 489.39 349.67 490.42 349.25 491.45 349.88 492.49 349.3 493.52 348.86 494.55 349.39 495.58 349.67 496.62 349.43 497.65 349.34 498.68 349.79 499.71 349.81 500.75 349.79 501.78 349.59 502.81 349.45 503.84 349.58 504.88 349.62 505.91 349.8 506.94 349.24 507.97 348.88 509 349.15 510.04 349.19 511.07 349.08 512.1 349.61 513.13 348.99 514.17 349.28 515.2 349.16 516.23 349.07 517.26 349.24 518.3 349.42 519.33 349.49 520.36 349.5 521.39 349.14 522.43 349.29 523.46 349.04 524.49 349.71 525.52 349.29 526.56 348.67 527.59 349.41 528.62 349.02 529.65 349.08 530.69 349.32 531.72 348.47 532.75 349.29 533.78 348.71 534.82 349.43 535.85 349.53 536.88 348.55 537.91 349.06 538.95 349.5 539.98 349.1 541.01 349.03 542.04 348.66 543.08 349.4 544.11 349.25 545.14 348.36 546.17 348.62 547.21 349.3 548.24 349.07 549.27 349.04 550.3 348.65 551.34 348.71 552.37 348.42 553.4 348.44 554.43 348.79 555.47 348.52 556.5 348.5 557.53 348.47 558.56 348.8 559.6 348.42 560.63 348.5 561.66 348.24 562.69 349.17 563.73 348.27 564.76 349.3 565.79 348.37 566.83 348.58 567.86 348.67 568.89 348.1 569.92 348.56 570.95 348.74 571.99 348.29 573.02 348.17 574.05 348.48 575.09 348.74 576.12 348.64 577.15 348.62 578.18 348.29 579.21 348.8 580.25 348.67 581.28 348.46 582.31 348.65 583.35 348.72 584.38 348.15 585.41 348.06 586.44 348.47 587.47 348.53 588.51 348.83 589.54 348.67 590.57 348.85 591.61 348.33 592.64 348.31 593.67 348.89 594.7 347.88 595.74 348.58 596.77 347.95 597.8 347.94 598.83 347.79 599.87 348.68 600.9 348.4 601.93 347.81 602.96 348.88 604 348.82 605.03 348.19 606.06 348.26 607.09 347.75 608.12 347.91 609.16 348.18 610.19 347.62 611.22 348.18 612.25 348.17 613.29 347.96 614.32 348.3 615.35 348.33 616.38 348.04 617.42 348.32 618.45 347.59 619.48 347.9 620.51 348.07 621.55 348.57 622.58 348.23 623.61 348.19 624.64 347.99 625.68 347.96 626.71 347.58 627.74 347.47 628.77 348.03 629.81 348.08 630.84 347.84 631.87 347.39 632.9 348.16 633.94 347.92 634.97 347.57 636 348.33 637.03 348.15 638.07 347.34 639.1 347.51 640.13 347.88 641.16 348.35 642.2 347.4 643.23 347.63 644.26 347.47 645.29 347.25 646.33 347.36 647.36 347.91 648.39 348.22 649.42 348.05 650.46 347.77 651.49 347.77 652.52 348.13 653.55 348.13 654.59 347.58 655.62 347.6 656.65 347.89 657.68 347.11 658.72 347.53 659.34 348.24C659.37 350.29 659.27 356.22 659.54 360.56C659.82 364.91 660.4 369.03 660.99 374.33C661.57 379.62 662.3 386.14 663.05 392.34C663.81 398.54 664.64 405.12 665.53 411.54C666.43 417.95 667.39 424.56 668.42 430.83C669.46 437.1 670.56 443.37 671.73 449.14C672.9 454.92 674.2 460.69 675.44 465.49C676.68 470.28 677.92 474.33 679.16 477.91C680.4 481.49 681.71 484.51 682.88 486.98C684.05 489.44 685.63 491.73 686.18 492.69" stroke="#8e1232" stroke-width="1.25" fill="none" stroke-linejoin="round" opacity="1"/>
<path d="M391.2 499.8C391.5 499.7 392.38 499.63 393 499.2C393.62 498.77 394.25 501.02 394.9 497.2C395.55 493.38 396 486.28 396.9 476.3C397.8 466.32 399.32 448.85 400.3 437.3C401.28 425.75 402.02 416.88 402.8 407C403.58 397.12 404.12 391.75 405 378C405.88 364.25 407.56 333.42 408.07 324.51L408.48 326.05 408.89 327.32 409.31 328.62 409.72 329.71 410.13 331 410.55 331.96 410.96 332.72 411.37 333.75 411.78 334.57 412.2 335.66 412.61 336.26 413.02 336.96 413.44 337.88 413.85 338.23 414.26 338.95 414.68 339.09 415.09 340.05 415.5 340.75 415.91 341.59 416.33 342.05 416.74 341.78 417.77 343.6 418.81 344.52 419.84 345.25 420.87 345.55 421.9 345.83 422.94 346.66 423.97 346.94 425 348.29 426.03 348.77 427.07 348.25 428.1 349.13 429.13 348.98 430.16 349.7 431.2 350.19 432.23 350.32 433.26 350.74 434.29 349.99 435.33 350.57 436.36 351.03 437.39 351.08 438.42 351.32 439.46 351.86 440.49 351 441.52 351.5 442.55 351.17 443.59 351.91 444.62 351.8 445.65 352.34 446.68 352.69 447.72 351.71 448.75 351.89 449.78 352.62 450.81 351.99 451.85 352.16 452.88 352.84 453.91 352.55 454.94 352.18 455.98 352.79 457.01 352.29 458.04 353.19 459.07 353.06 460.11 352.71 461.14 353.34 462.17 353.28 463.2 352.63 464.24 353.13 465.27 352.79 466.3 353.48 467.33 353.59 468.37 353.39 469.4 353.62 470.43 352.7 471.46 353.53 472.5 353.22 473.53 353.77 474.56 353.28 475.59 353.47 476.63 353.46 477.66 353.87 478.69 353.81 479.72 352.98 480.76 353.55 481.79 353.68 482.82 353.75 483.85 353.64 484.89 353.69 485.92 353.94 486.95 353.18 487.98 353.56 489.02 353.78 490.05 353.12 491.08 353.85 492.11 353.63 493.15 352.95 494.18 353.79 495.21 353.4 496.24 352.92 497.28 352.95 498.31 353.72 499.34 353.47 500.37 353.02 501.41 353.42 502.44 352.72 503.47 353.6 504.5 352.7 505.54 353.22 506.57 353.54 507.6 353.26 508.63 353.63 509.67 352.92 510.7 353.44 511.73 352.66 512.76 353.02 513.8 353.27 514.83 353.39 515.86 352.94 516.89 353.4 517.93 352.59 518.96 353.47 519.99 352.99 521.02 352.93 522.06 353.24 523.09 352.62 524.12 353.07 525.15 352.72 526.19 352.81 527.22 353.1 528.25 352.99 529.28 353.33 530.32 353.2 531.35 352.37 532.38 352.99 533.41 352.56 534.45 353.2 535.48 352.64 536.51 352.86 537.54 352.67 538.58 352.89 539.61 353.15 540.64 352.83 541.67 352.91 542.71 353.01 543.74 352.28 544.77 352.78 545.8 352.62 546.84 351.99 547.87 352.13 548.9 351.98 549.93 351.98 550.97 352.83 552 352.64 553.03 352.91 554.06 352.11 555.1 352.11 556.13 352.46 557.16 352.36 558.19 352.05 559.23 351.98 560.26 352.49 561.29 351.75 562.32 352.32 563.36 351.97 564.39 352.48 565.42 352.54 566.45 351.56 567.49 351.75 568.52 351.76 569.55 352.54 570.58 352.52 571.62 352.35 572.65 352.28 573.68 352.13 574.71 352.02 575.75 352.4 576.78 352.05 577.81 351.64 578.84 352.16 579.88 351.35 580.91 351.65 581.94 351.45 582.97 351.98 584.01 351.74 585.04 351.42 586.07 351.8 587.1 352.19 588.14 351.17 589.17 351.22 590.2 351.78 591.23 352.05 592.27 351.05 593.3 351.33 594.33 351.97 595.36 351.71 596.4 351.85 597.43 351.01 598.46 351.68 599.49 350.82 600.53 350.99 601.56 351.76 602.59 351.01 603.62 351.35 604.66 350.9 605.69 350.78 606.72 351.41 607.75 351.62 608.79 350.57 609.82 351.17 610.85 350.54 611.88 350.8 612.92 350.72 613.95 350.59 614.98 350.81 616.01 350.99 617.05 351.45 618.08 350.65 619.11 350.95 620.14 350.83 621.18 350.31 622.21 351.24 623.24 350.46 624.27 351.3 625.31 350.48 626.34 350.34 627.37 350.97 628.4 350.6 629.44 350.07 630.47 350.44 631.5 350.53 632.53 350.86 633.57 351.07 634.6 350.68 635.63 350.6 636.66 350.82 637.7 350.67 638.73 350.85 639.76 350.15 640.79 350.17 641.83 350.66 642.86 350.63 643.89 350.28 644.92 350.34 645.96 349.73 646.99 350.41 648.02 350.45 649.05 349.72 650.09 350.59 651.12 350.06 652.15 350.31 653.18 349.71 654.22 350.01 655.25 349.73 656.28 350.41 657.31 349.79 658.1 349.86C658.34 351.64 659.06 356.49 659.54 360.56C660.03 364.64 660.4 369.03 660.99 374.33C661.57 379.62 662.3 386.14 663.05 392.34C663.81 398.54 664.64 405.12 665.53 411.54C666.43 417.95 667.39 424.56 668.42 430.83C669.46 437.1 670.56 443.37 671.73 449.14C672.9 454.92 674.2 460.69 675.44 465.49C676.68 470.28 677.92 474.33 679.16 477.91C680.4 481.49 681.71 484.51 682.88 486.98C684.05 489.44 685.63 491.73 686.18 492.69" stroke="#1aa6a6" stroke-width="1.25" fill="none" stroke-linejoin="round" opacity="1"/>
<path d="M391.2 499.8C391.5 499.7 392.38 499.63 393 499.2C393.62 498.77 394.25 501.02 394.9 497.2C395.55 493.38 396 486.28 396.9 476.3C397.8 466.32 399.32 448.85 400.3 437.3C401.28 425.75 402.02 416.88 402.8 407C403.58 397.12 404.09 390.64 405 378C405.91 365.36 407.69 338.97 408.23 331.16" stroke="#8e1232" stroke-width="1.1" fill="none" stroke-dasharray="3 2.5"/>
<path d="M659.54 360.56C659.78 362.86 660.4 369.03 660.99 374.33C661.57 379.62 662.3 386.14 663.05 392.34C663.81 398.54 664.64 405.12 665.53 411.54C666.43 417.95 667.39 424.56 668.42 430.83C669.46 437.1 670.56 443.37 671.73 449.14C672.9 454.92 674.2 460.69 675.44 465.49C676.68 470.28 677.92 474.33 679.16 477.91C680.4 481.49 681.71 484.51 682.88 486.98C684.05 489.44 685.63 491.73 686.18 492.69" stroke="#8e1232" stroke-width="1.1" fill="none" stroke-dasharray="3 2.5"/>
<rect x="401.9" y="284.1" width="47.3" height="18.5" fill="#fff" stroke="#555" stroke-width="1.2"/>
<text x="405.6" y="298" font-size="12.2" text-anchor="start" textLength="40.5" lengthAdjust="spacingAndGlyphs">(t1, F1)</text>
<rect x="654.7" y="312.5" width="47.3" height="17.8" fill="#fff" stroke="#555" stroke-width="1.2"/>
<text x="658.3" y="325.4" font-size="12.2" text-anchor="start" textLength="40.5" lengthAdjust="spacingAndGlyphs">(t2, F2)</text>
<rect x="500.4" y="326.2" width="73.5" height="17.4" fill="#fff" stroke="#555" stroke-width="1.2"/>
<text x="503.8" y="339.8" font-size="12" text-anchor="start" textLength="67.5" lengthAdjust="spacingAndGlyphs">C-CO / C-RC</text>
<rect x="500.9" y="350.6" width="70.4" height="16.8" fill="#fff" stroke="#555" stroke-width="1.2"/>
<text x="504.6" y="364.2" font-size="12" text-anchor="start" textLength="63.8" lengthAdjust="spacingAndGlyphs">C-ST / C-RB</text>
</svg></body></html>
